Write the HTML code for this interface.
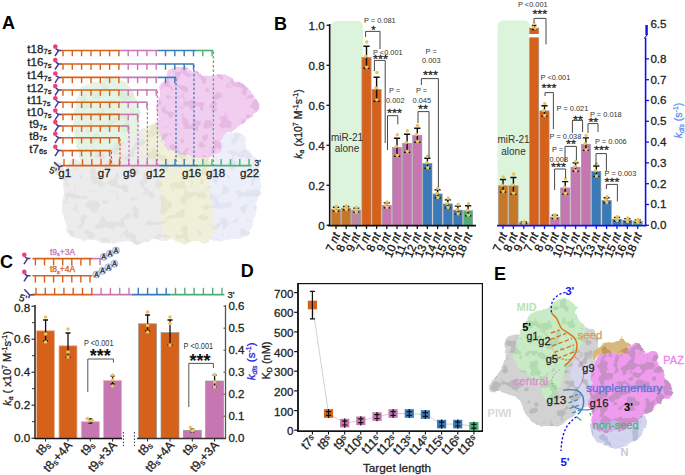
<!DOCTYPE html>
<html><head><meta charset="utf-8"><style>
html,body{margin:0;padding:0;background:#fff;}
svg{display:block;}
text{font-family:"Liberation Sans",sans-serif;}
</style></head><body>
<svg width="685" height="475" viewBox="0 0 685 475" font-family="Liberation Sans, sans-serif">
<defs>
<filter id="blur1" x="-10%" y="-10%" width="120%" height="120%"><feGaussianBlur stdDeviation="1.2"/></filter>
<filter id="blur2" x="-10%" y="-10%" width="120%" height="120%"><feGaussianBlur stdDeviation="0.8"/></filter>
<filter id="rough" x="-10%" y="-10%" width="120%" height="120%"><feTurbulence type="fractalNoise" baseFrequency="0.09" numOctaves="2" seed="3" result="n"/><feDisplacementMap in="SourceGraphic" in2="n" scale="7" xChannelSelector="R" yChannelSelector="G" result="d"/><feGaussianBlur in="d" stdDeviation="0.5"/></filter>
<filter id="mottle2" x="-10%" y="-10%" width="120%" height="120%"><feTurbulence type="fractalNoise" baseFrequency="0.11" numOctaves="2" seed="11" result="n"/><feColorMatrix in="n" type="matrix" values="0 0 0 0 0 0 0 0 0 0 0 0 0 0 0 -14 0 0 0 7.2" result="a"/><feDisplacementMap in="SourceGraphic" in2="n" scale="7" xChannelSelector="R" yChannelSelector="G" result="d"/><feComposite in="d" in2="a" operator="in" result="c"/><feGaussianBlur in="c" stdDeviation="0.4"/></filter>
<filter id="mottle" x="-10%" y="-10%" width="120%" height="120%"><feTurbulence type="fractalNoise" baseFrequency="0.1" numOctaves="2" seed="7" result="n"/><feColorMatrix in="n" type="matrix" values="0 0 0 0 0 0 0 0 0 0 0 0 0 0 0 -14 0 0 0 6.3" result="a"/><feDisplacementMap in="SourceGraphic" in2="n" scale="7" xChannelSelector="R" yChannelSelector="G" result="d"/><feComposite in="d" in2="a" operator="in" result="c"/><feGaussianBlur in="c" stdDeviation="0.4"/></filter>
</defs>
<rect width="685" height="475" fill="#fff"/>
<text x="2.0" y="29.0" font-size="18" text-anchor="start" fill="#000" font-weight="bold">A</text>
<text x="274.0" y="30.3" font-size="18" text-anchor="start" fill="#000" font-weight="bold">B</text>
<text x="0.0" y="267.5" font-size="18" text-anchor="start" fill="#000" font-weight="bold">C</text>
<text x="240.8" y="277.4" font-size="18" text-anchor="start" fill="#000" font-weight="bold">D</text>
<text x="494.0" y="279.5" font-size="18" text-anchor="start" fill="#000" font-weight="bold">E</text>
<g filter="url(#rough)">
<path d="M66.0,168.0 C67.8,164.7 70.3,161.7 74.0,160.0 C77.7,158.3 83.0,159.3 88.0,158.0 C93.0,156.7 99.0,154.2 104.0,152.0 C109.0,149.8 113.7,147.3 118.0,145.0 C122.3,142.7 126.3,140.5 130.0,138.0 C133.7,135.5 136.7,131.7 140.0,130.0 C143.3,128.3 147.0,127.3 150.0,128.0 C153.0,128.7 156.0,130.3 158.0,134.0 C160.0,137.7 160.3,143.7 162.0,150.0 C163.7,156.3 165.8,166.2 168.0,172.0 C170.2,177.8 173.3,180.3 175.0,185.0 C176.7,189.7 177.5,194.2 178.0,200.0 C178.5,205.8 178.3,214.0 178.0,220.0 C177.7,226.0 177.7,232.3 176.0,236.0 C174.3,239.7 171.5,241.3 168.0,242.0 C164.5,242.7 159.7,239.8 155.0,240.0 C150.3,240.2 145.0,242.8 140.0,243.0 C135.0,243.2 130.0,241.0 125.0,241.0 C120.0,241.0 115.0,243.0 110.0,243.0 C105.0,243.0 100.0,241.5 95.0,241.0 C90.0,240.5 84.2,240.8 80.0,240.0 C75.8,239.2 72.3,238.5 70.0,236.0 C67.7,233.5 67.2,229.3 66.0,225.0 C64.8,220.7 63.3,215.0 63.0,210.0 C62.7,205.0 64.0,200.0 64.0,195.0 C64.0,190.0 62.7,184.5 63.0,180.0 C63.3,175.5 64.2,171.3 66.0,168.0 Z" fill="#ececec"/>
<path d="M224.0,134.0 C225.8,132.5 230.2,132.8 233.0,133.0 C235.8,133.2 239.0,133.8 241.0,135.0 C243.0,136.2 243.7,137.2 245.0,140.0 C246.3,142.8 247.2,148.7 249.0,152.0 C250.8,155.3 254.2,156.2 256.0,160.0 C257.8,163.8 259.5,169.2 260.0,175.0 C260.5,180.8 259.8,188.3 259.0,195.0 C258.2,201.7 256.5,209.2 255.0,215.0 C253.5,220.8 251.8,226.3 250.0,230.0 C248.2,233.7 247.0,235.7 244.0,237.0 C241.0,238.3 236.0,237.5 232.0,238.0 C228.0,238.5 224.0,240.0 220.0,240.0 C216.0,240.0 210.7,240.5 208.0,238.0 C205.3,235.5 204.8,230.5 204.0,225.0 C203.2,219.5 202.8,211.7 203.0,205.0 C203.2,198.3 203.8,190.8 205.0,185.0 C206.2,179.2 208.8,174.2 210.0,170.0 C211.2,165.8 210.7,163.3 212.0,160.0 C213.3,156.7 216.3,153.0 218.0,150.0 C219.7,147.0 221.0,144.7 222.0,142.0 C223.0,139.3 222.2,135.5 224.0,134.0 Z" fill="#eceef8"/>
<path d="M146.0,128.0 C148.3,125.0 152.7,122.7 156.0,122.0 C159.3,121.3 163.3,124.2 166.0,124.0 C168.7,123.8 168.7,120.5 172.0,121.0 C175.3,121.5 181.3,125.8 186.0,127.0 C190.7,128.2 196.3,125.8 200.0,128.0 C203.7,130.2 206.3,134.7 208.0,140.0 C209.7,145.3 209.7,152.5 210.0,160.0 C210.3,167.5 209.7,176.7 210.0,185.0 C210.3,193.3 211.3,202.5 212.0,210.0 C212.7,217.5 214.7,224.8 214.0,230.0 C213.3,235.2 211.2,238.8 208.0,241.0 C204.8,243.2 199.7,242.8 195.0,243.0 C190.3,243.2 184.5,242.8 180.0,242.0 C175.5,241.2 171.0,240.8 168.0,238.0 C165.0,235.2 163.3,231.3 162.0,225.0 C160.7,218.7 160.5,208.3 160.0,200.0 C159.5,191.7 159.0,181.3 159.0,175.0 C159.0,168.7 161.5,164.5 160.0,162.0 C158.5,159.5 152.8,161.7 150.0,160.0 C147.2,158.3 144.3,155.3 143.0,152.0 C141.7,148.7 141.5,144.0 142.0,140.0 C142.5,136.0 143.7,131.0 146.0,128.0 Z" fill="#efefda"/>
<path d="M76.0,100.0 C77.5,95.0 80.0,88.2 84.0,85.0 C88.0,81.8 95.3,82.3 100.0,81.0 C104.7,79.7 108.0,76.8 112.0,77.0 C116.0,77.2 120.7,79.5 124.0,82.0 C127.3,84.5 129.7,88.3 132.0,92.0 C134.3,95.7 136.8,99.7 138.0,104.0 C139.2,108.3 139.2,113.7 139.0,118.0 C138.8,122.3 138.5,126.3 137.0,130.0 C135.5,133.7 133.2,137.3 130.0,140.0 C126.8,142.7 122.3,144.0 118.0,146.0 C113.7,148.0 108.3,150.0 104.0,152.0 C99.7,154.0 95.7,156.7 92.0,158.0 C88.3,159.3 84.5,161.7 82.0,160.0 C79.5,158.3 78.2,153.0 77.0,148.0 C75.8,143.0 75.3,135.5 75.0,130.0 C74.7,124.5 74.8,120.0 75.0,115.0 C75.2,110.0 74.5,105.0 76.0,100.0 Z" fill="#e6f3e4"/>
<path d="M158.0,100.0 C158.5,96.3 158.3,92.2 160.0,88.0 C161.7,83.8 165.3,78.3 168.0,75.0 C170.7,71.7 173.0,69.3 176.0,68.0 C179.0,66.7 182.7,66.3 186.0,67.0 C189.3,67.7 192.8,70.3 196.0,72.0 C199.2,73.7 201.7,76.7 205.0,77.0 C208.3,77.3 212.2,74.0 216.0,74.0 C219.8,74.0 224.0,75.3 228.0,77.0 C232.0,78.7 236.3,81.5 240.0,84.0 C243.7,86.5 247.2,89.0 250.0,92.0 C252.8,95.0 255.7,98.7 257.0,102.0 C258.3,105.3 259.2,109.3 258.0,112.0 C256.8,114.7 252.5,116.3 250.0,118.0 C247.5,119.7 245.8,120.0 243.0,122.0 C240.2,124.0 235.8,128.2 233.0,130.0 C230.2,131.8 227.8,131.3 226.0,133.0 C224.2,134.7 222.7,137.0 222.0,140.0 C221.3,143.0 223.7,148.3 222.0,151.0 C220.3,153.7 215.7,155.0 212.0,156.0 C208.3,157.0 204.0,157.2 200.0,157.0 C196.0,156.8 192.0,155.8 188.0,155.0 C184.0,154.2 179.7,153.5 176.0,152.0 C172.3,150.5 168.7,148.7 166.0,146.0 C163.3,143.3 161.5,140.0 160.0,136.0 C158.5,132.0 157.5,126.3 157.0,122.0 C156.5,117.7 156.8,113.7 157.0,110.0 C157.2,106.3 157.5,103.7 158.0,100.0 Z" fill="#f1cdf0"/>
<ellipse cx="58" cy="168" rx="5" ry="7" fill="#ece8d2"/>
</g>
<g filter="url(#mottle)"><path d="M66.0,168.0 C67.8,164.7 70.3,161.7 74.0,160.0 C77.7,158.3 83.0,159.3 88.0,158.0 C93.0,156.7 99.0,154.2 104.0,152.0 C109.0,149.8 113.7,147.3 118.0,145.0 C122.3,142.7 126.3,140.5 130.0,138.0 C133.7,135.5 136.7,131.7 140.0,130.0 C143.3,128.3 147.0,127.3 150.0,128.0 C153.0,128.7 156.0,130.3 158.0,134.0 C160.0,137.7 160.3,143.7 162.0,150.0 C163.7,156.3 165.8,166.2 168.0,172.0 C170.2,177.8 173.3,180.3 175.0,185.0 C176.7,189.7 177.5,194.2 178.0,200.0 C178.5,205.8 178.3,214.0 178.0,220.0 C177.7,226.0 177.7,232.3 176.0,236.0 C174.3,239.7 171.5,241.3 168.0,242.0 C164.5,242.7 159.7,239.8 155.0,240.0 C150.3,240.2 145.0,242.8 140.0,243.0 C135.0,243.2 130.0,241.0 125.0,241.0 C120.0,241.0 115.0,243.0 110.0,243.0 C105.0,243.0 100.0,241.5 95.0,241.0 C90.0,240.5 84.2,240.8 80.0,240.0 C75.8,239.2 72.3,238.5 70.0,236.0 C67.7,233.5 67.2,229.3 66.0,225.0 C64.8,220.7 63.3,215.0 63.0,210.0 C62.7,205.0 64.0,200.0 64.0,195.0 C64.0,190.0 62.7,184.5 63.0,180.0 C63.3,175.5 64.2,171.3 66.0,168.0 Z" fill="#e2e2e2"/></g>
<g filter="url(#mottle)"><path d="M224.0,134.0 C225.8,132.5 230.2,132.8 233.0,133.0 C235.8,133.2 239.0,133.8 241.0,135.0 C243.0,136.2 243.7,137.2 245.0,140.0 C246.3,142.8 247.2,148.7 249.0,152.0 C250.8,155.3 254.2,156.2 256.0,160.0 C257.8,163.8 259.5,169.2 260.0,175.0 C260.5,180.8 259.8,188.3 259.0,195.0 C258.2,201.7 256.5,209.2 255.0,215.0 C253.5,220.8 251.8,226.3 250.0,230.0 C248.2,233.7 247.0,235.7 244.0,237.0 C241.0,238.3 236.0,237.5 232.0,238.0 C228.0,238.5 224.0,240.0 220.0,240.0 C216.0,240.0 210.7,240.5 208.0,238.0 C205.3,235.5 204.8,230.5 204.0,225.0 C203.2,219.5 202.8,211.7 203.0,205.0 C203.2,198.3 203.8,190.8 205.0,185.0 C206.2,179.2 208.8,174.2 210.0,170.0 C211.2,165.8 210.7,163.3 212.0,160.0 C213.3,156.7 216.3,153.0 218.0,150.0 C219.7,147.0 221.0,144.7 222.0,142.0 C223.0,139.3 222.2,135.5 224.0,134.0 Z" fill="#e1e4f3"/></g>
<g filter="url(#mottle)"><path d="M146.0,128.0 C148.3,125.0 152.7,122.7 156.0,122.0 C159.3,121.3 163.3,124.2 166.0,124.0 C168.7,123.8 168.7,120.5 172.0,121.0 C175.3,121.5 181.3,125.8 186.0,127.0 C190.7,128.2 196.3,125.8 200.0,128.0 C203.7,130.2 206.3,134.7 208.0,140.0 C209.7,145.3 209.7,152.5 210.0,160.0 C210.3,167.5 209.7,176.7 210.0,185.0 C210.3,193.3 211.3,202.5 212.0,210.0 C212.7,217.5 214.7,224.8 214.0,230.0 C213.3,235.2 211.2,238.8 208.0,241.0 C204.8,243.2 199.7,242.8 195.0,243.0 C190.3,243.2 184.5,242.8 180.0,242.0 C175.5,241.2 171.0,240.8 168.0,238.0 C165.0,235.2 163.3,231.3 162.0,225.0 C160.7,218.7 160.5,208.3 160.0,200.0 C159.5,191.7 159.0,181.3 159.0,175.0 C159.0,168.7 161.5,164.5 160.0,162.0 C158.5,159.5 152.8,161.7 150.0,160.0 C147.2,158.3 144.3,155.3 143.0,152.0 C141.7,148.7 141.5,144.0 142.0,140.0 C142.5,136.0 143.7,131.0 146.0,128.0 Z" fill="#e6e6ca"/></g>
<g filter="url(#mottle)"><path d="M76.0,100.0 C77.5,95.0 80.0,88.2 84.0,85.0 C88.0,81.8 95.3,82.3 100.0,81.0 C104.7,79.7 108.0,76.8 112.0,77.0 C116.0,77.2 120.7,79.5 124.0,82.0 C127.3,84.5 129.7,88.3 132.0,92.0 C134.3,95.7 136.8,99.7 138.0,104.0 C139.2,108.3 139.2,113.7 139.0,118.0 C138.8,122.3 138.5,126.3 137.0,130.0 C135.5,133.7 133.2,137.3 130.0,140.0 C126.8,142.7 122.3,144.0 118.0,146.0 C113.7,148.0 108.3,150.0 104.0,152.0 C99.7,154.0 95.7,156.7 92.0,158.0 C88.3,159.3 84.5,161.7 82.0,160.0 C79.5,158.3 78.2,153.0 77.0,148.0 C75.8,143.0 75.3,135.5 75.0,130.0 C74.7,124.5 74.8,120.0 75.0,115.0 C75.2,110.0 74.5,105.0 76.0,100.0 Z" fill="#dbeed9"/></g>
<g filter="url(#mottle)"><path d="M158.0,100.0 C158.5,96.3 158.3,92.2 160.0,88.0 C161.7,83.8 165.3,78.3 168.0,75.0 C170.7,71.7 173.0,69.3 176.0,68.0 C179.0,66.7 182.7,66.3 186.0,67.0 C189.3,67.7 192.8,70.3 196.0,72.0 C199.2,73.7 201.7,76.7 205.0,77.0 C208.3,77.3 212.2,74.0 216.0,74.0 C219.8,74.0 224.0,75.3 228.0,77.0 C232.0,78.7 236.3,81.5 240.0,84.0 C243.7,86.5 247.2,89.0 250.0,92.0 C252.8,95.0 255.7,98.7 257.0,102.0 C258.3,105.3 259.2,109.3 258.0,112.0 C256.8,114.7 252.5,116.3 250.0,118.0 C247.5,119.7 245.8,120.0 243.0,122.0 C240.2,124.0 235.8,128.2 233.0,130.0 C230.2,131.8 227.8,131.3 226.0,133.0 C224.2,134.7 222.7,137.0 222.0,140.0 C221.3,143.0 223.7,148.3 222.0,151.0 C220.3,153.7 215.7,155.0 212.0,156.0 C208.3,157.0 204.0,157.2 200.0,157.0 C196.0,156.8 192.0,155.8 188.0,155.0 C184.0,154.2 179.7,153.5 176.0,152.0 C172.3,150.5 168.7,148.7 166.0,146.0 C163.3,143.3 161.5,140.0 160.0,136.0 C158.5,132.0 157.5,126.3 157.0,122.0 C156.5,117.7 156.8,113.7 157.0,110.0 C157.2,106.3 157.5,103.7 158.0,100.0 Z" fill="#e6b9e4"/></g>
<text x="27.3" y="52.5" font-size="11.6" fill="#222" stroke="#222" stroke-width="0.28">t18<tspan font-size="7.6" dy="1.6">7s</tspan></text>
<path d="M55,56.0 L58.6,50.5 L61.5,50.5" stroke="#4a3a90" stroke-width="1.5" fill="none"/>
<path d="M58.6,50.5 L55.8,48.7" stroke="#4a3a90" stroke-width="1.5" fill="none"/>
<circle cx="55.3" cy="46.6" r="2.3" fill="#f23c78"/>
<line x1="61" y1="50.5" x2="120.5" y2="50.5" stroke="#d6611b" stroke-width="1.6"/>
<line x1="120.5" y1="50.5" x2="157.4" y2="50.5" stroke="#c676b0" stroke-width="1.6"/>
<line x1="157.4" y1="50.5" x2="196" y2="50.5" stroke="#3a7ab8" stroke-width="1.6"/>
<line x1="196" y1="50.5" x2="213.4" y2="50.5" stroke="#4cae78" stroke-width="1.6"/>
<line x1="63.0" y1="50.5" x2="63.0" y2="56.3" stroke="#d6611b" stroke-width="1.4"/>
<line x1="72.3" y1="50.5" x2="72.3" y2="56.3" stroke="#d6611b" stroke-width="1.4"/>
<line x1="81.6" y1="50.5" x2="81.6" y2="56.3" stroke="#d6611b" stroke-width="1.4"/>
<line x1="91.0" y1="50.5" x2="91.0" y2="56.3" stroke="#d6611b" stroke-width="1.4"/>
<line x1="100.3" y1="50.5" x2="100.3" y2="56.3" stroke="#d6611b" stroke-width="1.4"/>
<line x1="109.6" y1="50.5" x2="109.6" y2="56.3" stroke="#d6611b" stroke-width="1.4"/>
<line x1="118.9" y1="50.5" x2="118.9" y2="56.3" stroke="#d6611b" stroke-width="1.4"/>
<line x1="128.2" y1="50.5" x2="128.2" y2="56.3" stroke="#c676b0" stroke-width="1.4"/>
<line x1="137.6" y1="50.5" x2="137.6" y2="56.3" stroke="#c676b0" stroke-width="1.4"/>
<line x1="146.9" y1="50.5" x2="146.9" y2="56.3" stroke="#c676b0" stroke-width="1.4"/>
<line x1="156.2" y1="50.5" x2="156.2" y2="56.3" stroke="#c676b0" stroke-width="1.4"/>
<line x1="165.5" y1="50.5" x2="165.5" y2="56.3" stroke="#3a7ab8" stroke-width="1.4"/>
<line x1="174.8" y1="50.5" x2="174.8" y2="56.3" stroke="#3a7ab8" stroke-width="1.4"/>
<line x1="184.2" y1="50.5" x2="184.2" y2="56.3" stroke="#3a7ab8" stroke-width="1.4"/>
<line x1="193.5" y1="50.5" x2="193.5" y2="56.3" stroke="#3a7ab8" stroke-width="1.4"/>
<line x1="202.8" y1="50.5" x2="202.8" y2="56.3" stroke="#4cae78" stroke-width="1.4"/>
<line x1="212.1" y1="50.5" x2="212.1" y2="56.3" stroke="#4cae78" stroke-width="1.4"/>
<line x1="213.4" y1="51.5" x2="213.4" y2="165.5" stroke="#4cae78" stroke-width="1.25" stroke-dasharray="2.6,1.9"/>
<text x="27.3" y="66.0" font-size="11.6" fill="#222" stroke="#222" stroke-width="0.28">t16<tspan font-size="7.6" dy="1.6">7s</tspan></text>
<path d="M55,69.5 L58.6,64.0 L61.5,64.0" stroke="#4a3a90" stroke-width="1.5" fill="none"/>
<path d="M58.6,64.0 L55.8,62.2" stroke="#4a3a90" stroke-width="1.5" fill="none"/>
<circle cx="55.3" cy="60.1" r="2.3" fill="#f23c78"/>
<line x1="61" y1="64.0" x2="120.5" y2="64.0" stroke="#d6611b" stroke-width="1.6"/>
<line x1="120.5" y1="64.0" x2="157.4" y2="64.0" stroke="#c676b0" stroke-width="1.6"/>
<line x1="157.4" y1="64.0" x2="194" y2="64.0" stroke="#3a7ab8" stroke-width="1.6"/>
<line x1="63.0" y1="64.0" x2="63.0" y2="69.8" stroke="#d6611b" stroke-width="1.4"/>
<line x1="72.3" y1="64.0" x2="72.3" y2="69.8" stroke="#d6611b" stroke-width="1.4"/>
<line x1="81.6" y1="64.0" x2="81.6" y2="69.8" stroke="#d6611b" stroke-width="1.4"/>
<line x1="91.0" y1="64.0" x2="91.0" y2="69.8" stroke="#d6611b" stroke-width="1.4"/>
<line x1="100.3" y1="64.0" x2="100.3" y2="69.8" stroke="#d6611b" stroke-width="1.4"/>
<line x1="109.6" y1="64.0" x2="109.6" y2="69.8" stroke="#d6611b" stroke-width="1.4"/>
<line x1="118.9" y1="64.0" x2="118.9" y2="69.8" stroke="#d6611b" stroke-width="1.4"/>
<line x1="128.2" y1="64.0" x2="128.2" y2="69.8" stroke="#c676b0" stroke-width="1.4"/>
<line x1="137.6" y1="64.0" x2="137.6" y2="69.8" stroke="#c676b0" stroke-width="1.4"/>
<line x1="146.9" y1="64.0" x2="146.9" y2="69.8" stroke="#c676b0" stroke-width="1.4"/>
<line x1="156.2" y1="64.0" x2="156.2" y2="69.8" stroke="#c676b0" stroke-width="1.4"/>
<line x1="165.5" y1="64.0" x2="165.5" y2="69.8" stroke="#3a7ab8" stroke-width="1.4"/>
<line x1="174.8" y1="64.0" x2="174.8" y2="69.8" stroke="#3a7ab8" stroke-width="1.4"/>
<line x1="184.2" y1="64.0" x2="184.2" y2="69.8" stroke="#3a7ab8" stroke-width="1.4"/>
<line x1="193.5" y1="64.0" x2="193.5" y2="69.8" stroke="#3a7ab8" stroke-width="1.4"/>
<line x1="194" y1="65.0" x2="194" y2="165.5" stroke="#3a7ab8" stroke-width="1.25" stroke-dasharray="2.6,1.9"/>
<text x="27.3" y="79.4" font-size="11.6" fill="#222" stroke="#222" stroke-width="0.28">t14<tspan font-size="7.6" dy="1.6">7s</tspan></text>
<path d="M55,82.9 L58.6,77.4 L61.5,77.4" stroke="#4a3a90" stroke-width="1.5" fill="none"/>
<path d="M58.6,77.4 L55.8,75.60000000000001" stroke="#4a3a90" stroke-width="1.5" fill="none"/>
<circle cx="55.3" cy="73.5" r="2.3" fill="#f23c78"/>
<line x1="61" y1="77.4" x2="120.5" y2="77.4" stroke="#d6611b" stroke-width="1.6"/>
<line x1="120.5" y1="77.4" x2="157.4" y2="77.4" stroke="#c676b0" stroke-width="1.6"/>
<line x1="157.4" y1="77.4" x2="176" y2="77.4" stroke="#3a7ab8" stroke-width="1.6"/>
<line x1="63.0" y1="77.4" x2="63.0" y2="83.2" stroke="#d6611b" stroke-width="1.4"/>
<line x1="72.3" y1="77.4" x2="72.3" y2="83.2" stroke="#d6611b" stroke-width="1.4"/>
<line x1="81.6" y1="77.4" x2="81.6" y2="83.2" stroke="#d6611b" stroke-width="1.4"/>
<line x1="91.0" y1="77.4" x2="91.0" y2="83.2" stroke="#d6611b" stroke-width="1.4"/>
<line x1="100.3" y1="77.4" x2="100.3" y2="83.2" stroke="#d6611b" stroke-width="1.4"/>
<line x1="109.6" y1="77.4" x2="109.6" y2="83.2" stroke="#d6611b" stroke-width="1.4"/>
<line x1="118.9" y1="77.4" x2="118.9" y2="83.2" stroke="#d6611b" stroke-width="1.4"/>
<line x1="128.2" y1="77.4" x2="128.2" y2="83.2" stroke="#c676b0" stroke-width="1.4"/>
<line x1="137.6" y1="77.4" x2="137.6" y2="83.2" stroke="#c676b0" stroke-width="1.4"/>
<line x1="146.9" y1="77.4" x2="146.9" y2="83.2" stroke="#c676b0" stroke-width="1.4"/>
<line x1="156.2" y1="77.4" x2="156.2" y2="83.2" stroke="#c676b0" stroke-width="1.4"/>
<line x1="165.5" y1="77.4" x2="165.5" y2="83.2" stroke="#3a7ab8" stroke-width="1.4"/>
<line x1="174.8" y1="77.4" x2="174.8" y2="83.2" stroke="#3a7ab8" stroke-width="1.4"/>
<line x1="176" y1="78.4" x2="176" y2="165.5" stroke="#3a7ab8" stroke-width="1.25" stroke-dasharray="2.6,1.9"/>
<text x="27.3" y="92.0" font-size="11.6" fill="#222" stroke="#222" stroke-width="0.28">t12<tspan font-size="7.6" dy="1.6">7s</tspan></text>
<path d="M55,95.5 L58.6,90.0 L61.5,90.0" stroke="#4a3a90" stroke-width="1.5" fill="none"/>
<path d="M58.6,90.0 L55.8,88.2" stroke="#4a3a90" stroke-width="1.5" fill="none"/>
<circle cx="55.3" cy="86.1" r="2.3" fill="#f23c78"/>
<line x1="61" y1="90.0" x2="120.5" y2="90.0" stroke="#d6611b" stroke-width="1.6"/>
<line x1="120.5" y1="90.0" x2="157.4" y2="90.0" stroke="#c676b0" stroke-width="1.6"/>
<line x1="63.0" y1="90.0" x2="63.0" y2="95.8" stroke="#d6611b" stroke-width="1.4"/>
<line x1="72.3" y1="90.0" x2="72.3" y2="95.8" stroke="#d6611b" stroke-width="1.4"/>
<line x1="81.6" y1="90.0" x2="81.6" y2="95.8" stroke="#d6611b" stroke-width="1.4"/>
<line x1="91.0" y1="90.0" x2="91.0" y2="95.8" stroke="#d6611b" stroke-width="1.4"/>
<line x1="100.3" y1="90.0" x2="100.3" y2="95.8" stroke="#d6611b" stroke-width="1.4"/>
<line x1="109.6" y1="90.0" x2="109.6" y2="95.8" stroke="#d6611b" stroke-width="1.4"/>
<line x1="118.9" y1="90.0" x2="118.9" y2="95.8" stroke="#d6611b" stroke-width="1.4"/>
<line x1="128.2" y1="90.0" x2="128.2" y2="95.8" stroke="#c676b0" stroke-width="1.4"/>
<line x1="137.6" y1="90.0" x2="137.6" y2="95.8" stroke="#c676b0" stroke-width="1.4"/>
<line x1="146.9" y1="90.0" x2="146.9" y2="95.8" stroke="#c676b0" stroke-width="1.4"/>
<line x1="156.2" y1="90.0" x2="156.2" y2="95.8" stroke="#c676b0" stroke-width="1.4"/>
<line x1="157.4" y1="91.0" x2="157.4" y2="165.5" stroke="#c676b0" stroke-width="1.25" stroke-dasharray="2.6,1.9"/>
<text x="27.3" y="104.2" font-size="11.6" fill="#222" stroke="#222" stroke-width="0.28">t11<tspan font-size="7.6" dy="1.6">7s</tspan></text>
<path d="M55,107.7 L58.6,102.2 L61.5,102.2" stroke="#4a3a90" stroke-width="1.5" fill="none"/>
<path d="M58.6,102.2 L55.8,100.4" stroke="#4a3a90" stroke-width="1.5" fill="none"/>
<circle cx="55.3" cy="98.3" r="2.3" fill="#f23c78"/>
<line x1="61" y1="102.2" x2="120.5" y2="102.2" stroke="#d6611b" stroke-width="1.6"/>
<line x1="120.5" y1="102.2" x2="147.4" y2="102.2" stroke="#c676b0" stroke-width="1.6"/>
<line x1="63.0" y1="102.2" x2="63.0" y2="108.0" stroke="#d6611b" stroke-width="1.4"/>
<line x1="72.3" y1="102.2" x2="72.3" y2="108.0" stroke="#d6611b" stroke-width="1.4"/>
<line x1="81.6" y1="102.2" x2="81.6" y2="108.0" stroke="#d6611b" stroke-width="1.4"/>
<line x1="91.0" y1="102.2" x2="91.0" y2="108.0" stroke="#d6611b" stroke-width="1.4"/>
<line x1="100.3" y1="102.2" x2="100.3" y2="108.0" stroke="#d6611b" stroke-width="1.4"/>
<line x1="109.6" y1="102.2" x2="109.6" y2="108.0" stroke="#d6611b" stroke-width="1.4"/>
<line x1="118.9" y1="102.2" x2="118.9" y2="108.0" stroke="#d6611b" stroke-width="1.4"/>
<line x1="128.2" y1="102.2" x2="128.2" y2="108.0" stroke="#c676b0" stroke-width="1.4"/>
<line x1="137.6" y1="102.2" x2="137.6" y2="108.0" stroke="#c676b0" stroke-width="1.4"/>
<line x1="146.9" y1="102.2" x2="146.9" y2="108.0" stroke="#c676b0" stroke-width="1.4"/>
<line x1="147.4" y1="103.2" x2="147.4" y2="165.5" stroke="#c676b0" stroke-width="1.25" stroke-dasharray="2.6,1.9"/>
<text x="27.3" y="116.4" font-size="11.6" fill="#222" stroke="#222" stroke-width="0.28">t10<tspan font-size="7.6" dy="1.6">7s</tspan></text>
<path d="M55,119.9 L58.6,114.4 L61.5,114.4" stroke="#4a3a90" stroke-width="1.5" fill="none"/>
<path d="M58.6,114.4 L55.8,112.60000000000001" stroke="#4a3a90" stroke-width="1.5" fill="none"/>
<circle cx="55.3" cy="110.5" r="2.3" fill="#f23c78"/>
<line x1="61" y1="114.4" x2="120.5" y2="114.4" stroke="#d6611b" stroke-width="1.6"/>
<line x1="120.5" y1="114.4" x2="138" y2="114.4" stroke="#c676b0" stroke-width="1.6"/>
<line x1="63.0" y1="114.4" x2="63.0" y2="120.2" stroke="#d6611b" stroke-width="1.4"/>
<line x1="72.3" y1="114.4" x2="72.3" y2="120.2" stroke="#d6611b" stroke-width="1.4"/>
<line x1="81.6" y1="114.4" x2="81.6" y2="120.2" stroke="#d6611b" stroke-width="1.4"/>
<line x1="91.0" y1="114.4" x2="91.0" y2="120.2" stroke="#d6611b" stroke-width="1.4"/>
<line x1="100.3" y1="114.4" x2="100.3" y2="120.2" stroke="#d6611b" stroke-width="1.4"/>
<line x1="109.6" y1="114.4" x2="109.6" y2="120.2" stroke="#d6611b" stroke-width="1.4"/>
<line x1="118.9" y1="114.4" x2="118.9" y2="120.2" stroke="#d6611b" stroke-width="1.4"/>
<line x1="128.2" y1="114.4" x2="128.2" y2="120.2" stroke="#c676b0" stroke-width="1.4"/>
<line x1="137.6" y1="114.4" x2="137.6" y2="120.2" stroke="#c676b0" stroke-width="1.4"/>
<line x1="138" y1="115.4" x2="138" y2="165.5" stroke="#c676b0" stroke-width="1.25" stroke-dasharray="2.6,1.9"/>
<text x="29.3" y="128.0" font-size="11.6" fill="#222" stroke="#222" stroke-width="0.28">t9<tspan font-size="7.6" dy="1.6">7s</tspan></text>
<path d="M55,131.5 L58.6,126.0 L61.5,126.0" stroke="#4a3a90" stroke-width="1.5" fill="none"/>
<path d="M58.6,126.0 L55.8,124.2" stroke="#4a3a90" stroke-width="1.5" fill="none"/>
<circle cx="55.3" cy="122.1" r="2.3" fill="#f23c78"/>
<line x1="61" y1="126.0" x2="120.5" y2="126.0" stroke="#d6611b" stroke-width="1.6"/>
<line x1="120.5" y1="126.0" x2="129" y2="126.0" stroke="#c676b0" stroke-width="1.6"/>
<line x1="63.0" y1="126.0" x2="63.0" y2="131.8" stroke="#d6611b" stroke-width="1.4"/>
<line x1="72.3" y1="126.0" x2="72.3" y2="131.8" stroke="#d6611b" stroke-width="1.4"/>
<line x1="81.6" y1="126.0" x2="81.6" y2="131.8" stroke="#d6611b" stroke-width="1.4"/>
<line x1="91.0" y1="126.0" x2="91.0" y2="131.8" stroke="#d6611b" stroke-width="1.4"/>
<line x1="100.3" y1="126.0" x2="100.3" y2="131.8" stroke="#d6611b" stroke-width="1.4"/>
<line x1="109.6" y1="126.0" x2="109.6" y2="131.8" stroke="#d6611b" stroke-width="1.4"/>
<line x1="118.9" y1="126.0" x2="118.9" y2="131.8" stroke="#d6611b" stroke-width="1.4"/>
<line x1="128.2" y1="126.0" x2="128.2" y2="131.8" stroke="#c676b0" stroke-width="1.4"/>
<line x1="129" y1="127.0" x2="129" y2="165.5" stroke="#c676b0" stroke-width="1.25" stroke-dasharray="2.6,1.9"/>
<text x="29.3" y="139.7" font-size="11.6" fill="#222" stroke="#222" stroke-width="0.28">t8<tspan font-size="7.6" dy="1.6">7s</tspan></text>
<path d="M55,143.2 L58.6,137.7 L61.5,137.7" stroke="#4a3a90" stroke-width="1.5" fill="none"/>
<path d="M58.6,137.7 L55.8,135.89999999999998" stroke="#4a3a90" stroke-width="1.5" fill="none"/>
<circle cx="55.3" cy="133.79999999999998" r="2.3" fill="#f23c78"/>
<line x1="61" y1="137.7" x2="120" y2="137.7" stroke="#d6611b" stroke-width="1.6"/>
<line x1="63.0" y1="137.7" x2="63.0" y2="143.5" stroke="#d6611b" stroke-width="1.4"/>
<line x1="72.3" y1="137.7" x2="72.3" y2="143.5" stroke="#d6611b" stroke-width="1.4"/>
<line x1="81.6" y1="137.7" x2="81.6" y2="143.5" stroke="#d6611b" stroke-width="1.4"/>
<line x1="91.0" y1="137.7" x2="91.0" y2="143.5" stroke="#d6611b" stroke-width="1.4"/>
<line x1="100.3" y1="137.7" x2="100.3" y2="143.5" stroke="#d6611b" stroke-width="1.4"/>
<line x1="109.6" y1="137.7" x2="109.6" y2="143.5" stroke="#d6611b" stroke-width="1.4"/>
<line x1="118.9" y1="137.7" x2="118.9" y2="143.5" stroke="#d6611b" stroke-width="1.4"/>
<line x1="120" y1="138.7" x2="120" y2="165.5" stroke="#d6611b" stroke-width="1.25" stroke-dasharray="2.6,1.9"/>
<text x="29.3" y="152.6" font-size="11.6" fill="#222" stroke="#222" stroke-width="0.28">t7<tspan font-size="7.6" dy="1.6">6s</tspan></text>
<path d="M55,156.1 L58.6,150.6 L61.5,150.6" stroke="#4a3a90" stroke-width="1.5" fill="none"/>
<path d="M58.6,150.6 L55.8,148.79999999999998" stroke="#4a3a90" stroke-width="1.5" fill="none"/>
<circle cx="55.3" cy="146.7" r="2.3" fill="#f23c78"/>
<line x1="61" y1="150.6" x2="111.4" y2="150.6" stroke="#d6611b" stroke-width="1.6"/>
<line x1="63.0" y1="150.6" x2="63.0" y2="156.4" stroke="#d6611b" stroke-width="1.4"/>
<line x1="72.3" y1="150.6" x2="72.3" y2="156.4" stroke="#d6611b" stroke-width="1.4"/>
<line x1="81.6" y1="150.6" x2="81.6" y2="156.4" stroke="#d6611b" stroke-width="1.4"/>
<line x1="91.0" y1="150.6" x2="91.0" y2="156.4" stroke="#d6611b" stroke-width="1.4"/>
<line x1="100.3" y1="150.6" x2="100.3" y2="156.4" stroke="#d6611b" stroke-width="1.4"/>
<line x1="109.6" y1="150.6" x2="109.6" y2="156.4" stroke="#d6611b" stroke-width="1.4"/>
<line x1="111.4" y1="151.6" x2="111.4" y2="165.5" stroke="#d6611b" stroke-width="1.25" stroke-dasharray="2.6,1.9"/>
<path d="M54.5,162.6 L59.3,166.8 L63.2,165.6 M59.3,166.8 L58.8,169.6" stroke="#4a3a90" stroke-width="1.6" fill="none" stroke-linecap="round"/>
<line x1="62.5" y1="165.6" x2="120" y2="165.6" stroke="#d6611b" stroke-width="1.6"/>
<line x1="120" y1="165.6" x2="159" y2="165.6" stroke="#c676b0" stroke-width="1.6"/>
<line x1="159" y1="165.6" x2="198" y2="165.6" stroke="#3a7ab8" stroke-width="1.6"/>
<line x1="198" y1="165.6" x2="251.5" y2="165.6" stroke="#4cae78" stroke-width="1.6"/>
<line x1="64.0" y1="165.6" x2="64.0" y2="159.1" stroke="#d6611b" stroke-width="1.4"/>
<line x1="73.2" y1="165.6" x2="73.2" y2="159.1" stroke="#d6611b" stroke-width="1.4"/>
<line x1="82.5" y1="165.6" x2="82.5" y2="159.1" stroke="#d6611b" stroke-width="1.4"/>
<line x1="91.8" y1="165.6" x2="91.8" y2="159.1" stroke="#d6611b" stroke-width="1.4"/>
<line x1="101.0" y1="165.6" x2="101.0" y2="159.1" stroke="#d6611b" stroke-width="1.4"/>
<line x1="110.2" y1="165.6" x2="110.2" y2="159.1" stroke="#d6611b" stroke-width="1.4"/>
<line x1="119.5" y1="165.6" x2="119.5" y2="159.1" stroke="#d6611b" stroke-width="1.4"/>
<line x1="128.8" y1="165.6" x2="128.8" y2="159.1" stroke="#c676b0" stroke-width="1.4"/>
<line x1="138.0" y1="165.6" x2="138.0" y2="159.1" stroke="#c676b0" stroke-width="1.4"/>
<line x1="147.2" y1="165.6" x2="147.2" y2="159.1" stroke="#c676b0" stroke-width="1.4"/>
<line x1="156.5" y1="165.6" x2="156.5" y2="159.1" stroke="#c676b0" stroke-width="1.4"/>
<line x1="165.8" y1="165.6" x2="165.8" y2="159.1" stroke="#3a7ab8" stroke-width="1.4"/>
<line x1="175.0" y1="165.6" x2="175.0" y2="159.1" stroke="#3a7ab8" stroke-width="1.4"/>
<line x1="184.2" y1="165.6" x2="184.2" y2="159.1" stroke="#3a7ab8" stroke-width="1.4"/>
<line x1="193.5" y1="165.6" x2="193.5" y2="159.1" stroke="#3a7ab8" stroke-width="1.4"/>
<line x1="202.8" y1="165.6" x2="202.8" y2="159.1" stroke="#4cae78" stroke-width="1.4"/>
<line x1="212.0" y1="165.6" x2="212.0" y2="159.1" stroke="#4cae78" stroke-width="1.4"/>
<line x1="221.2" y1="165.6" x2="221.2" y2="159.1" stroke="#4cae78" stroke-width="1.4"/>
<line x1="230.5" y1="165.6" x2="230.5" y2="159.1" stroke="#4cae78" stroke-width="1.4"/>
<line x1="239.8" y1="165.6" x2="239.8" y2="159.1" stroke="#4cae78" stroke-width="1.4"/>
<line x1="249.0" y1="165.6" x2="249.0" y2="159.1" stroke="#4cae78" stroke-width="1.4"/>
<text x="254.5" y="165.5" font-size="8.5" text-anchor="start" fill="#222"  stroke="#222" stroke-width="0.28">3'</text>
<text x="0" y="0" font-size="9.5" fill="#222" transform="translate(48.4,172.6) rotate(20)" stroke="#222" stroke-width="0.28">5'</text>
<text x="58.3" y="176.8" font-size="11.5" text-anchor="start" fill="#222"  stroke="#222" stroke-width="0.28">g1</text>
<text x="97.8" y="176.8" font-size="11.5" text-anchor="start" fill="#222"  stroke="#222" stroke-width="0.28">g7</text>
<text x="123.0" y="176.8" font-size="11.5" text-anchor="start" fill="#222"  stroke="#222" stroke-width="0.28">g9</text>
<text x="146.0" y="176.8" font-size="11.5" text-anchor="start" fill="#222"  stroke="#222" stroke-width="0.28">g12</text>
<text x="182.0" y="176.8" font-size="11.5" text-anchor="start" fill="#222"  stroke="#222" stroke-width="0.28">g16</text>
<text x="206.0" y="176.8" font-size="11.5" text-anchor="start" fill="#222"  stroke="#222" stroke-width="0.28">g18</text>
<text x="240.0" y="176.8" font-size="11.5" text-anchor="start" fill="#222"  stroke="#222" stroke-width="0.28">g22</text>
<rect x="331" y="21" width="32" height="206" rx="5" fill="#dcf3dc"/>
<rect x="331.4" y="209.3" width="9.2" height="16.0" fill="#c6782a" stroke="#9a9a9a" stroke-width="0.6"/>
<rect x="341.6" y="208.1" width="9.2" height="17.2" fill="#c6782a" stroke="#9a9a9a" stroke-width="0.6"/>
<rect x="351.7" y="210.1" width="9.2" height="15.2" fill="#b8889e" stroke="#9a9a9a" stroke-width="0.6"/>
<rect x="361.9" y="57.3" width="9.2" height="168.0" fill="#d6611b" stroke="#9a9a9a" stroke-width="0.6"/>
<rect x="372.0" y="89.3" width="9.2" height="136.0" fill="#d6611b" stroke="#9a9a9a" stroke-width="0.6"/>
<rect x="382.2" y="205.3" width="9.2" height="20.0" fill="#c676b0" stroke="#9a9a9a" stroke-width="0.6"/>
<rect x="392.4" y="147.3" width="9.2" height="78.0" fill="#c676b0" stroke="#9a9a9a" stroke-width="0.6"/>
<rect x="402.5" y="143.3" width="9.2" height="82.0" fill="#c676b0" stroke="#9a9a9a" stroke-width="0.6"/>
<rect x="412.7" y="135.3" width="9.2" height="90.0" fill="#c676b0" stroke="#9a9a9a" stroke-width="0.6"/>
<rect x="422.8" y="163.3" width="9.2" height="62.0" fill="#3a7ab8" stroke="#9a9a9a" stroke-width="0.6"/>
<rect x="433.0" y="193.9" width="9.2" height="31.4" fill="#3a7ab8" stroke="#9a9a9a" stroke-width="0.6"/>
<rect x="443.2" y="203.9" width="9.2" height="21.4" fill="#3a7ab8" stroke="#9a9a9a" stroke-width="0.6"/>
<rect x="453.3" y="210.1" width="9.2" height="15.2" fill="#3a7ab8" stroke="#9a9a9a" stroke-width="0.6"/>
<rect x="463.5" y="210.7" width="9.2" height="14.6" fill="#4cae78" stroke="#9a9a9a" stroke-width="0.6"/>
<path d="M336.0,207.3 V211.3 M332.9,207.3 h6.2 M332.9,211.3 h6.2" stroke="#111" stroke-width="1.4" fill="none"/>
<circle cx="336.3" cy="206.5" r="1.75" fill="#e8c462"/>
<circle cx="335.2" cy="209.1" r="1.75" fill="#e8c462"/>
<circle cx="336.2" cy="211.1" r="1.75" fill="#e8c462"/>
<path d="M346.2,206.5 V209.7 M343.1,206.5 h6.2 M343.1,209.7 h6.2" stroke="#111" stroke-width="1.4" fill="none"/>
<circle cx="346.5" cy="205.9" r="1.75" fill="#e8c462"/>
<circle cx="345.4" cy="207.9" r="1.75" fill="#e8c462"/>
<circle cx="346.4" cy="209.5" r="1.75" fill="#e8c462"/>
<path d="M356.3,208.1 V212.1 M353.2,208.1 h6.2 M353.2,212.1 h6.2" stroke="#111" stroke-width="1.4" fill="none"/>
<circle cx="356.6" cy="207.3" r="1.75" fill="#e8c462"/>
<circle cx="355.5" cy="209.9" r="1.75" fill="#e8c462"/>
<circle cx="356.5" cy="211.9" r="1.75" fill="#e8c462"/>
<path d="M366.5,46.3 V68.3 M363.4,46.3 h6.2 M363.4,68.3 h6.2" stroke="#111" stroke-width="1.4" fill="none"/>
<circle cx="366.8" cy="41.9" r="1.75" fill="#e8c462"/>
<circle cx="365.7" cy="56.2" r="1.75" fill="#e8c462"/>
<circle cx="366.7" cy="67.2" r="1.75" fill="#e8c462"/>
<path d="M376.6,77.3 V101.3 M373.5,77.3 h6.2 M373.5,101.3 h6.2" stroke="#111" stroke-width="1.4" fill="none"/>
<circle cx="376.9" cy="72.5" r="1.75" fill="#e8c462"/>
<circle cx="375.8" cy="88.1" r="1.75" fill="#e8c462"/>
<circle cx="376.8" cy="100.1" r="1.75" fill="#e8c462"/>
<path d="M386.8,202.9 V207.7 M383.7,202.9 h6.2 M383.7,207.7 h6.2" stroke="#111" stroke-width="1.4" fill="none"/>
<circle cx="387.1" cy="201.9" r="1.75" fill="#e8c462"/>
<circle cx="386.0" cy="205.1" r="1.75" fill="#e8c462"/>
<circle cx="387.0" cy="207.5" r="1.75" fill="#e8c462"/>
<path d="M397.0,138.3 V156.3 M393.9,138.3 h6.2 M393.9,156.3 h6.2" stroke="#111" stroke-width="1.4" fill="none"/>
<circle cx="397.3" cy="134.7" r="1.75" fill="#e8c462"/>
<circle cx="396.2" cy="146.4" r="1.75" fill="#e8c462"/>
<circle cx="397.2" cy="155.4" r="1.75" fill="#e8c462"/>
<path d="M407.1,134.3 V152.3 M404.0,134.3 h6.2 M404.0,152.3 h6.2" stroke="#111" stroke-width="1.4" fill="none"/>
<circle cx="407.4" cy="130.7" r="1.75" fill="#e8c462"/>
<circle cx="406.3" cy="142.4" r="1.75" fill="#e8c462"/>
<circle cx="407.3" cy="151.4" r="1.75" fill="#e8c462"/>
<path d="M417.3,128.3 V142.3 M414.2,128.3 h6.2 M414.2,142.3 h6.2" stroke="#111" stroke-width="1.4" fill="none"/>
<circle cx="417.6" cy="125.5" r="1.75" fill="#e8c462"/>
<circle cx="416.5" cy="134.6" r="1.75" fill="#e8c462"/>
<circle cx="417.5" cy="141.6" r="1.75" fill="#e8c462"/>
<path d="M427.4,158.3 V168.3 M424.3,158.3 h6.2 M424.3,168.3 h6.2" stroke="#111" stroke-width="1.4" fill="none"/>
<circle cx="427.7" cy="156.3" r="1.75" fill="#e8c462"/>
<circle cx="426.6" cy="162.8" r="1.75" fill="#e8c462"/>
<circle cx="427.6" cy="167.8" r="1.75" fill="#e8c462"/>
<path d="M437.6,189.9 V197.9 M434.5,189.9 h6.2 M434.5,197.9 h6.2" stroke="#111" stroke-width="1.4" fill="none"/>
<circle cx="437.9" cy="188.3" r="1.75" fill="#e8c462"/>
<circle cx="436.8" cy="193.5" r="1.75" fill="#e8c462"/>
<circle cx="437.8" cy="197.5" r="1.75" fill="#e8c462"/>
<path d="M447.8,199.9 V207.9 M444.7,199.9 h6.2 M444.7,207.9 h6.2" stroke="#111" stroke-width="1.4" fill="none"/>
<circle cx="448.1" cy="198.3" r="1.75" fill="#e8c462"/>
<circle cx="447.0" cy="203.5" r="1.75" fill="#e8c462"/>
<circle cx="448.0" cy="207.5" r="1.75" fill="#e8c462"/>
<path d="M457.9,206.1 V214.1 M454.8,206.1 h6.2 M454.8,214.1 h6.2" stroke="#111" stroke-width="1.4" fill="none"/>
<circle cx="458.2" cy="204.5" r="1.75" fill="#e8c462"/>
<circle cx="457.1" cy="209.7" r="1.75" fill="#e8c462"/>
<circle cx="458.1" cy="213.7" r="1.75" fill="#e8c462"/>
<path d="M468.1,205.7 V215.7 M465.0,205.7 h6.2 M465.0,215.7 h6.2" stroke="#111" stroke-width="1.4" fill="none"/>
<circle cx="468.4" cy="203.7" r="1.75" fill="#e8c462"/>
<circle cx="467.3" cy="210.2" r="1.75" fill="#e8c462"/>
<circle cx="468.3" cy="215.2" r="1.75" fill="#e8c462"/>
<line x1="329.7" y1="24" x2="329.7" y2="226" stroke="#111" stroke-width="1.6"/>
<line x1="328.2" y1="225.6" x2="476" y2="225.6" stroke="#111" stroke-width="1.6"/>
<line x1="326.5" y1="225.3" x2="329.7" y2="225.3" stroke="#111" stroke-width="1.3"/>
<text x="324.6" y="230.0" font-size="11.6" text-anchor="end" fill="#222"  stroke="#222" stroke-width="0.28">0</text>
<line x1="326.5" y1="185.3" x2="329.7" y2="185.3" stroke="#111" stroke-width="1.3"/>
<text x="324.6" y="190.0" font-size="11.6" text-anchor="end" fill="#222"  stroke="#222" stroke-width="0.28">0.2</text>
<line x1="326.5" y1="145.3" x2="329.7" y2="145.3" stroke="#111" stroke-width="1.3"/>
<text x="324.6" y="150.0" font-size="11.6" text-anchor="end" fill="#222"  stroke="#222" stroke-width="0.28">0.4</text>
<line x1="326.5" y1="105.3" x2="329.7" y2="105.3" stroke="#111" stroke-width="1.3"/>
<text x="324.6" y="110.0" font-size="11.6" text-anchor="end" fill="#222"  stroke="#222" stroke-width="0.28">0.6</text>
<line x1="326.5" y1="65.3" x2="329.7" y2="65.3" stroke="#111" stroke-width="1.3"/>
<text x="324.6" y="70.0" font-size="11.6" text-anchor="end" fill="#222"  stroke="#222" stroke-width="0.28">0.8</text>
<line x1="326.5" y1="25.3" x2="329.7" y2="25.3" stroke="#111" stroke-width="1.3"/>
<text x="324.6" y="30.0" font-size="11.6" text-anchor="end" fill="#222"  stroke="#222" stroke-width="0.28">1.0</text>
<line x1="336.0" y1="226" x2="336.0" y2="229" stroke="#111" stroke-width="1.3"/>
<text x="0" y="0" font-size="11.6" text-anchor="end" fill="#111" transform="translate(340.3,234.8) rotate(-67)" stroke="#111" stroke-width="0.28">7 <tspan font-style="italic">nt</tspan></text>
<line x1="346.2" y1="226" x2="346.2" y2="229" stroke="#111" stroke-width="1.3"/>
<text x="0" y="0" font-size="11.6" text-anchor="end" fill="#111" transform="translate(350.5,234.8) rotate(-67)" stroke="#111" stroke-width="0.28">8 <tspan font-style="italic">nt</tspan></text>
<line x1="356.3" y1="226" x2="356.3" y2="229" stroke="#111" stroke-width="1.3"/>
<text x="0" y="0" font-size="11.6" text-anchor="end" fill="#111" transform="translate(360.6,234.8) rotate(-67)" stroke="#111" stroke-width="0.28">9 <tspan font-style="italic">nt</tspan></text>
<line x1="366.5" y1="226" x2="366.5" y2="229" stroke="#111" stroke-width="1.3"/>
<text x="0" y="0" font-size="11.6" text-anchor="end" fill="#111" transform="translate(370.8,234.8) rotate(-67)" stroke="#111" stroke-width="0.28">7 <tspan font-style="italic">nt</tspan></text>
<line x1="376.6" y1="226" x2="376.6" y2="229" stroke="#111" stroke-width="1.3"/>
<text x="0" y="0" font-size="11.6" text-anchor="end" fill="#111" transform="translate(380.9,234.8) rotate(-67)" stroke="#111" stroke-width="0.28">8 <tspan font-style="italic">nt</tspan></text>
<line x1="386.8" y1="226" x2="386.8" y2="229" stroke="#111" stroke-width="1.3"/>
<text x="0" y="0" font-size="11.6" text-anchor="end" fill="#111" transform="translate(391.1,234.8) rotate(-67)" stroke="#111" stroke-width="0.28">9 <tspan font-style="italic">nt</tspan></text>
<line x1="397.0" y1="226" x2="397.0" y2="229" stroke="#111" stroke-width="1.3"/>
<text x="0" y="0" font-size="11.6" text-anchor="end" fill="#111" transform="translate(401.3,234.8) rotate(-67)" stroke="#111" stroke-width="0.28">10 <tspan font-style="italic">nt</tspan></text>
<line x1="407.1" y1="226" x2="407.1" y2="229" stroke="#111" stroke-width="1.3"/>
<text x="0" y="0" font-size="11.6" text-anchor="end" fill="#111" transform="translate(411.4,234.8) rotate(-67)" stroke="#111" stroke-width="0.28">11 <tspan font-style="italic">nt</tspan></text>
<line x1="417.3" y1="226" x2="417.3" y2="229" stroke="#111" stroke-width="1.3"/>
<text x="0" y="0" font-size="11.6" text-anchor="end" fill="#111" transform="translate(421.6,234.8) rotate(-67)" stroke="#111" stroke-width="0.28">12 <tspan font-style="italic">nt</tspan></text>
<line x1="427.4" y1="226" x2="427.4" y2="229" stroke="#111" stroke-width="1.3"/>
<text x="0" y="0" font-size="11.6" text-anchor="end" fill="#111" transform="translate(431.7,234.8) rotate(-67)" stroke="#111" stroke-width="0.28">13 <tspan font-style="italic">nt</tspan></text>
<line x1="437.6" y1="226" x2="437.6" y2="229" stroke="#111" stroke-width="1.3"/>
<text x="0" y="0" font-size="11.6" text-anchor="end" fill="#111" transform="translate(441.9,234.8) rotate(-67)" stroke="#111" stroke-width="0.28">14 <tspan font-style="italic">nt</tspan></text>
<line x1="447.8" y1="226" x2="447.8" y2="229" stroke="#111" stroke-width="1.3"/>
<text x="0" y="0" font-size="11.6" text-anchor="end" fill="#111" transform="translate(452.1,234.8) rotate(-67)" stroke="#111" stroke-width="0.28">15 <tspan font-style="italic">nt</tspan></text>
<line x1="457.9" y1="226" x2="457.9" y2="229" stroke="#111" stroke-width="1.3"/>
<text x="0" y="0" font-size="11.6" text-anchor="end" fill="#111" transform="translate(462.2,234.8) rotate(-67)" stroke="#111" stroke-width="0.28">16 <tspan font-style="italic">nt</tspan></text>
<line x1="468.1" y1="226" x2="468.1" y2="229" stroke="#111" stroke-width="1.3"/>
<text x="0" y="0" font-size="11.6" text-anchor="end" fill="#111" transform="translate(472.4,234.8) rotate(-67)" stroke="#111" stroke-width="0.28">18 <tspan font-style="italic">nt</tspan></text>
<text x="0" y="0" font-size="10.5" text-anchor="middle" fill="#222" transform="translate(301.5,124) rotate(-90)" stroke="#222" stroke-width="0.28"><tspan font-style="italic">k</tspan><tspan font-size="7" dy="2" font-style="italic">a</tspan><tspan dy="-2"> (x10</tspan><tspan font-size="7" dy="-4">7</tspan><tspan dy="4"> M</tspan><tspan font-size="7" dy="-4">-1</tspan><tspan dy="4">s</tspan><tspan font-size="7" dy="-4">-1</tspan><tspan dy="4">)</tspan></text>
<text x="347.0" y="140.6" font-size="10" text-anchor="middle" fill="#333" >miR-21</text>
<text x="347.0" y="152.4" font-size="10" text-anchor="middle" fill="#333" >alone</text>
<text x="364.0" y="23.3" font-size="7.4" text-anchor="start" fill="#333" >P = 0.081</text>
<text x="371.2" y="34.3" font-size="11" text-anchor="start" fill="#222" stroke="#222" stroke-width="0.28">*</text>
<path d="M365.6,37 V31.4 H380 V49" stroke="#333" stroke-width="0.9" fill="none"/>
<text x="373.0" y="54.6" font-size="7.4" text-anchor="start" fill="#333" >P &lt;0.001</text>
<text x="373.0" y="63.3" font-size="11" text-anchor="start" fill="#222" textLength="14.850000000000001" lengthAdjust="spacingAndGlyphs" stroke="#222" stroke-width="0.28">***</text>
<path d="M374.4,71 V60.4 H385.2 V143" stroke="#333" stroke-width="0.9" fill="none"/>
<text x="389.0" y="92.8" font-size="7.4" text-anchor="start" fill="#333" >P =</text>
<text x="386.0" y="103.0" font-size="7.4" text-anchor="start" fill="#333" >0.002</text>
<text x="387.0" y="117.3" font-size="11" text-anchor="start" fill="#222" textLength="14.850000000000001" lengthAdjust="spacingAndGlyphs" stroke="#222" stroke-width="0.28">***</text>
<path d="M387.5,150 V115.7 H397.8 V124.3" stroke="#333" stroke-width="0.9" fill="none"/>
<text x="416.0" y="92.8" font-size="7.4" text-anchor="start" fill="#333" >P =</text>
<text x="412.6" y="103.0" font-size="7.4" text-anchor="start" fill="#333" >0.045</text>
<text x="418.0" y="112.7" font-size="11" text-anchor="start" fill="#222" textLength="9.9" lengthAdjust="spacingAndGlyphs" stroke="#222" stroke-width="0.28">**</text>
<path d="M418,123 V111.6 H429 V159" stroke="#333" stroke-width="0.9" fill="none"/>
<text x="425.6" y="53.6" font-size="7.4" text-anchor="start" fill="#333" >P =</text>
<text x="422.0" y="63.4" font-size="7.4" text-anchor="start" fill="#333" >0.003</text>
<text x="423.0" y="78.9" font-size="11" text-anchor="start" fill="#222" textLength="14.850000000000001" lengthAdjust="spacingAndGlyphs" stroke="#222" stroke-width="0.28">***</text>
<path d="M421.4,85 V78.6 H438.4 V187" stroke="#333" stroke-width="0.9" fill="none"/>
<rect x="497.6" y="20.6" width="32" height="206" rx="5" fill="#dcf3dc"/>
<rect x="498.4" y="185.8" width="9.3" height="39.5" fill="#c6782a" stroke="#9a9a9a" stroke-width="0.6"/>
<rect x="508.8" y="185.8" width="9.3" height="39.5" fill="#c6782a" stroke="#9a9a9a" stroke-width="0.6"/>
<rect x="519.1" y="222.8" width="9.3" height="2.5" fill="#b8889e" stroke="#9a9a9a" stroke-width="0.6"/>
<rect x="539.8" y="110.9" width="9.3" height="114.4" fill="#d6611b" stroke="#9a9a9a" stroke-width="0.6"/>
<rect x="550.2" y="217.0" width="9.3" height="8.3" fill="#c676b0" stroke="#9a9a9a" stroke-width="0.6"/>
<rect x="560.6" y="187.9" width="9.3" height="37.4" fill="#c676b0" stroke="#9a9a9a" stroke-width="0.6"/>
<rect x="570.9" y="167.1" width="9.3" height="58.2" fill="#c676b0" stroke="#9a9a9a" stroke-width="0.6"/>
<rect x="581.3" y="144.2" width="9.3" height="81.1" fill="#c676b0" stroke="#9a9a9a" stroke-width="0.6"/>
<rect x="591.6" y="171.2" width="9.3" height="54.1" fill="#3a7ab8" stroke="#9a9a9a" stroke-width="0.6"/>
<rect x="602.0" y="200.3" width="9.3" height="25.0" fill="#3a7ab8" stroke="#9a9a9a" stroke-width="0.6"/>
<rect x="612.4" y="219.1" width="9.3" height="6.2" fill="#3a7ab8" stroke="#9a9a9a" stroke-width="0.6"/>
<rect x="622.7" y="220.1" width="9.3" height="5.2" fill="#3a7ab8" stroke="#9a9a9a" stroke-width="0.6"/>
<rect x="633.1" y="221.1" width="9.3" height="4.2" fill="#4cae78" stroke="#9a9a9a" stroke-width="0.6"/>
<rect x="529.5" y="28" width="9.3" height="197.3" fill="#d6611b" stroke="#9a9a9a" stroke-width="0.6"/>
<rect x="528.5" y="34" width="11.3" height="3.4" fill="#fff"/>
<path d="M534.1,25.5 V29.5 M531.8,25.5 h4.6 M531.8,29.5 h4.6" stroke="#111" stroke-width="1.3" fill="none"/>
<circle cx="534.1" cy="23.5" r="1.5" fill="#e8c462"/>
<circle cx="533.1" cy="27.0" r="1.5" fill="#e8c462"/>
<circle cx="535.1" cy="28.5" r="1.5" fill="#e8c462"/>
<path d="M503.0,179.5 V192.0 M499.9,179.5 h6.2 M499.9,192.0 h6.2" stroke="#111" stroke-width="1.4" fill="none"/>
<circle cx="503.3" cy="177.0" r="1.75" fill="#e8c462"/>
<circle cx="502.2" cy="185.2" r="1.75" fill="#e8c462"/>
<circle cx="503.2" cy="191.4" r="1.75" fill="#e8c462"/>
<path d="M513.4,177.5 V194.1 M510.3,177.5 h6.2 M510.3,194.1 h6.2" stroke="#111" stroke-width="1.4" fill="none"/>
<circle cx="513.7" cy="174.1" r="1.75" fill="#e8c462"/>
<circle cx="512.6" cy="184.9" r="1.75" fill="#e8c462"/>
<circle cx="513.6" cy="193.3" r="1.75" fill="#e8c462"/>
<path d="M523.8,222.0 V223.6 M520.7,222.0 h6.2 M520.7,223.6 h6.2" stroke="#111" stroke-width="1.4" fill="none"/>
<circle cx="524.1" cy="221.6" r="1.75" fill="#e8c462"/>
<circle cx="523.0" cy="222.7" r="1.75" fill="#e8c462"/>
<circle cx="524.0" cy="223.6" r="1.75" fill="#e8c462"/>
<path d="M544.5,105.7 V116.1 M541.4,105.7 h6.2 M541.4,116.1 h6.2" stroke="#111" stroke-width="1.4" fill="none"/>
<circle cx="544.8" cy="103.6" r="1.75" fill="#e8c462"/>
<circle cx="543.7" cy="110.4" r="1.75" fill="#e8c462"/>
<circle cx="544.7" cy="115.6" r="1.75" fill="#e8c462"/>
<path d="M554.8,215.3 V218.6 M551.7,215.3 h6.2 M551.7,218.6 h6.2" stroke="#111" stroke-width="1.4" fill="none"/>
<circle cx="555.1" cy="214.7" r="1.75" fill="#e8c462"/>
<circle cx="554.0" cy="216.8" r="1.75" fill="#e8c462"/>
<circle cx="555.0" cy="218.5" r="1.75" fill="#e8c462"/>
<path d="M565.2,181.6 V194.1 M562.1,181.6 h6.2 M562.1,194.1 h6.2" stroke="#111" stroke-width="1.4" fill="none"/>
<circle cx="565.5" cy="179.1" r="1.75" fill="#e8c462"/>
<circle cx="564.4" cy="187.2" r="1.75" fill="#e8c462"/>
<circle cx="565.4" cy="193.5" r="1.75" fill="#e8c462"/>
<path d="M575.6,162.9 V171.2 M572.5,162.9 h6.2 M572.5,171.2 h6.2" stroke="#111" stroke-width="1.4" fill="none"/>
<circle cx="575.9" cy="161.2" r="1.75" fill="#e8c462"/>
<circle cx="574.8" cy="166.6" r="1.75" fill="#e8c462"/>
<circle cx="575.8" cy="170.8" r="1.75" fill="#e8c462"/>
<path d="M585.9,137.9 V150.4 M582.8,137.9 h6.2 M582.8,150.4 h6.2" stroke="#111" stroke-width="1.4" fill="none"/>
<circle cx="586.2" cy="135.4" r="1.75" fill="#e8c462"/>
<circle cx="585.1" cy="143.6" r="1.75" fill="#e8c462"/>
<circle cx="586.1" cy="149.8" r="1.75" fill="#e8c462"/>
<path d="M596.3,166.0 V176.4 M593.2,166.0 h6.2 M593.2,176.4 h6.2" stroke="#111" stroke-width="1.4" fill="none"/>
<circle cx="596.6" cy="163.9" r="1.75" fill="#e8c462"/>
<circle cx="595.5" cy="170.7" r="1.75" fill="#e8c462"/>
<circle cx="596.5" cy="175.9" r="1.75" fill="#e8c462"/>
<path d="M606.6,197.8 V202.8 M603.5,197.8 h6.2 M603.5,202.8 h6.2" stroke="#111" stroke-width="1.4" fill="none"/>
<circle cx="606.9" cy="196.8" r="1.75" fill="#e8c462"/>
<circle cx="605.9" cy="200.1" r="1.75" fill="#e8c462"/>
<circle cx="606.9" cy="202.6" r="1.75" fill="#e8c462"/>
<path d="M617.0,217.4 V220.7 M613.9,217.4 h6.2 M613.9,220.7 h6.2" stroke="#111" stroke-width="1.4" fill="none"/>
<circle cx="617.3" cy="216.7" r="1.75" fill="#e8c462"/>
<circle cx="616.2" cy="218.9" r="1.75" fill="#e8c462"/>
<circle cx="617.2" cy="220.6" r="1.75" fill="#e8c462"/>
<path d="M627.4,218.6 V221.6 M624.3,218.6 h6.2 M624.3,221.6 h6.2" stroke="#111" stroke-width="1.4" fill="none"/>
<circle cx="627.7" cy="218.1" r="1.75" fill="#e8c462"/>
<circle cx="626.6" cy="220.0" r="1.75" fill="#e8c462"/>
<circle cx="627.6" cy="221.4" r="1.75" fill="#e8c462"/>
<path d="M637.7,219.9 V222.4 M634.6,219.9 h6.2 M634.6,222.4 h6.2" stroke="#111" stroke-width="1.4" fill="none"/>
<circle cx="638.0" cy="219.4" r="1.75" fill="#e8c462"/>
<circle cx="636.9" cy="221.0" r="1.75" fill="#e8c462"/>
<circle cx="637.9" cy="222.3" r="1.75" fill="#e8c462"/>
<line x1="645.6" y1="38" x2="645.6" y2="226" stroke="#1010e8" stroke-width="1.6"/>
<line x1="646.6" y1="25" x2="646.6" y2="35" stroke="#1010e8" stroke-width="2.4"/>
<path d="M644.2,38.5 L647.5,34.5" stroke="#1010e8" stroke-width="1.1"/>
<line x1="497" y1="225.6" x2="646.4" y2="225.6" stroke="#1010e8" stroke-width="1.6"/>
<line x1="645.6" y1="225.3" x2="649" y2="225.3" stroke="#1010e8" stroke-width="1.3"/>
<text x="650.4" y="229.2" font-size="11.6" text-anchor="start" fill="#222"  stroke="#222" stroke-width="0.28">0.0</text>
<line x1="645.6" y1="204.5" x2="649" y2="204.5" stroke="#1010e8" stroke-width="1.3"/>
<text x="650.4" y="208.4" font-size="11.6" text-anchor="start" fill="#222"  stroke="#222" stroke-width="0.28">0.1</text>
<line x1="645.6" y1="183.7" x2="649" y2="183.7" stroke="#1010e8" stroke-width="1.3"/>
<text x="650.4" y="187.6" font-size="11.6" text-anchor="start" fill="#222"  stroke="#222" stroke-width="0.28">0.2</text>
<line x1="645.6" y1="162.9" x2="649" y2="162.9" stroke="#1010e8" stroke-width="1.3"/>
<text x="650.4" y="166.8" font-size="11.6" text-anchor="start" fill="#222"  stroke="#222" stroke-width="0.28">0.3</text>
<line x1="645.6" y1="142.1" x2="649" y2="142.1" stroke="#1010e8" stroke-width="1.3"/>
<text x="650.4" y="146.0" font-size="11.6" text-anchor="start" fill="#222"  stroke="#222" stroke-width="0.28">0.4</text>
<line x1="645.6" y1="121.3" x2="649" y2="121.3" stroke="#1010e8" stroke-width="1.3"/>
<text x="650.4" y="125.2" font-size="11.6" text-anchor="start" fill="#222"  stroke="#222" stroke-width="0.28">0.5</text>
<line x1="645.6" y1="100.5" x2="649" y2="100.5" stroke="#1010e8" stroke-width="1.3"/>
<text x="650.4" y="104.4" font-size="11.6" text-anchor="start" fill="#222"  stroke="#222" stroke-width="0.28">0.6</text>
<line x1="645.6" y1="79.7" x2="649" y2="79.7" stroke="#1010e8" stroke-width="1.3"/>
<text x="650.4" y="83.6" font-size="11.6" text-anchor="start" fill="#222"  stroke="#222" stroke-width="0.28">0.7</text>
<line x1="645.6" y1="58.9" x2="649" y2="58.9" stroke="#1010e8" stroke-width="1.3"/>
<text x="650.4" y="62.8" font-size="11.6" text-anchor="start" fill="#222"  stroke="#222" stroke-width="0.28">0.8</text>
<text x="650.4" y="28.4" font-size="11.6" text-anchor="start" fill="#222"  stroke="#222" stroke-width="0.28">6.5</text>
<line x1="503.0" y1="226" x2="503.0" y2="229" stroke="#1010e8" stroke-width="1.3"/>
<text x="0" y="0" font-size="11.6" text-anchor="end" fill="#111" transform="translate(507.3,234.8) rotate(-67)" stroke="#111" stroke-width="0.28">7 <tspan font-style="italic">nt</tspan></text>
<line x1="513.4" y1="226" x2="513.4" y2="229" stroke="#1010e8" stroke-width="1.3"/>
<text x="0" y="0" font-size="11.6" text-anchor="end" fill="#111" transform="translate(517.7,234.8) rotate(-67)" stroke="#111" stroke-width="0.28">8 <tspan font-style="italic">nt</tspan></text>
<line x1="523.8" y1="226" x2="523.8" y2="229" stroke="#1010e8" stroke-width="1.3"/>
<text x="0" y="0" font-size="11.6" text-anchor="end" fill="#111" transform="translate(528.1,234.8) rotate(-67)" stroke="#111" stroke-width="0.28">9 <tspan font-style="italic">nt</tspan></text>
<line x1="534.1" y1="226" x2="534.1" y2="229" stroke="#1010e8" stroke-width="1.3"/>
<text x="0" y="0" font-size="11.6" text-anchor="end" fill="#111" transform="translate(538.4,234.8) rotate(-67)" stroke="#111" stroke-width="0.28">7 <tspan font-style="italic">nt</tspan></text>
<line x1="544.5" y1="226" x2="544.5" y2="229" stroke="#1010e8" stroke-width="1.3"/>
<text x="0" y="0" font-size="11.6" text-anchor="end" fill="#111" transform="translate(548.8,234.8) rotate(-67)" stroke="#111" stroke-width="0.28">8 <tspan font-style="italic">nt</tspan></text>
<line x1="554.8" y1="226" x2="554.8" y2="229" stroke="#1010e8" stroke-width="1.3"/>
<text x="0" y="0" font-size="11.6" text-anchor="end" fill="#111" transform="translate(559.1,234.8) rotate(-67)" stroke="#111" stroke-width="0.28">9 <tspan font-style="italic">nt</tspan></text>
<line x1="565.2" y1="226" x2="565.2" y2="229" stroke="#1010e8" stroke-width="1.3"/>
<text x="0" y="0" font-size="11.6" text-anchor="end" fill="#111" transform="translate(569.5,234.8) rotate(-67)" stroke="#111" stroke-width="0.28">10 <tspan font-style="italic">nt</tspan></text>
<line x1="575.6" y1="226" x2="575.6" y2="229" stroke="#1010e8" stroke-width="1.3"/>
<text x="0" y="0" font-size="11.6" text-anchor="end" fill="#111" transform="translate(579.9,234.8) rotate(-67)" stroke="#111" stroke-width="0.28">11 <tspan font-style="italic">nt</tspan></text>
<line x1="585.9" y1="226" x2="585.9" y2="229" stroke="#1010e8" stroke-width="1.3"/>
<text x="0" y="0" font-size="11.6" text-anchor="end" fill="#111" transform="translate(590.2,234.8) rotate(-67)" stroke="#111" stroke-width="0.28">12 <tspan font-style="italic">nt</tspan></text>
<line x1="596.3" y1="226" x2="596.3" y2="229" stroke="#1010e8" stroke-width="1.3"/>
<text x="0" y="0" font-size="11.6" text-anchor="end" fill="#111" transform="translate(600.6,234.8) rotate(-67)" stroke="#111" stroke-width="0.28">13 <tspan font-style="italic">nt</tspan></text>
<line x1="606.6" y1="226" x2="606.6" y2="229" stroke="#1010e8" stroke-width="1.3"/>
<text x="0" y="0" font-size="11.6" text-anchor="end" fill="#111" transform="translate(610.9,234.8) rotate(-67)" stroke="#111" stroke-width="0.28">14 <tspan font-style="italic">nt</tspan></text>
<line x1="617.0" y1="226" x2="617.0" y2="229" stroke="#1010e8" stroke-width="1.3"/>
<text x="0" y="0" font-size="11.6" text-anchor="end" fill="#111" transform="translate(621.3,234.8) rotate(-67)" stroke="#111" stroke-width="0.28">15 <tspan font-style="italic">nt</tspan></text>
<line x1="627.4" y1="226" x2="627.4" y2="229" stroke="#1010e8" stroke-width="1.3"/>
<text x="0" y="0" font-size="11.6" text-anchor="end" fill="#111" transform="translate(631.7,234.8) rotate(-67)" stroke="#111" stroke-width="0.28">16 <tspan font-style="italic">nt</tspan></text>
<line x1="637.7" y1="226" x2="637.7" y2="229" stroke="#1010e8" stroke-width="1.3"/>
<text x="0" y="0" font-size="11.6" text-anchor="end" fill="#111" transform="translate(642.0,234.8) rotate(-67)" stroke="#111" stroke-width="0.28">18 <tspan font-style="italic">nt</tspan></text>
<text x="0" y="0" font-size="10.5" text-anchor="middle" fill="#5b8df2" transform="translate(681.5,120.5) rotate(-90)" stroke="#5b8df2" stroke-width="0.28"><tspan font-style="italic">k</tspan><tspan font-size="7" dy="2" font-style="italic">dis</tspan><tspan dy="-2"> (s</tspan><tspan font-size="7" dy="-4">-1</tspan><tspan dy="4">)</tspan></text>
<text x="513.5" y="143.0" font-size="10" text-anchor="middle" fill="#333" >miR-21</text>
<text x="513.5" y="155.0" font-size="10" text-anchor="middle" fill="#333" >alone</text>
<text x="518.0" y="7.2" font-size="7.4" text-anchor="start" fill="#333" >P &lt;0.001</text>
<text x="532.4" y="18.3" font-size="11" text-anchor="start" fill="#222" textLength="14.850000000000001" lengthAdjust="spacingAndGlyphs" stroke="#222" stroke-width="0.28">***</text>
<path d="M534,23 V18.4 H546 V44.4" stroke="#333" stroke-width="0.9" fill="none"/>
<text x="540.6" y="80.2" font-size="7.4" text-anchor="start" fill="#333" >P &lt;0.001</text>
<text x="541.6" y="92.3" font-size="11" text-anchor="start" fill="#222" textLength="14.850000000000001" lengthAdjust="spacingAndGlyphs" stroke="#222" stroke-width="0.28">***</text>
<path d="M545,96 V92.6 H553.4 V129" stroke="#333" stroke-width="0.9" fill="none"/>
<text x="556.6" y="111.2" font-size="7.4" text-anchor="start" fill="#333" >P = 0.021</text>
<text x="573.0" y="123.9" font-size="11" text-anchor="start" fill="#222" textLength="9.9" lengthAdjust="spacingAndGlyphs" stroke="#222" stroke-width="0.28">**</text>
<path d="M572.4,133 V120.4 H582.6 V132" stroke="#333" stroke-width="0.9" fill="none"/>
<text x="590.0" y="116.8" font-size="7.4" text-anchor="start" fill="#333" >P = 0.018</text>
<text x="588.4" y="126.3" font-size="11" text-anchor="start" fill="#222" textLength="9.9" lengthAdjust="spacingAndGlyphs" stroke="#222" stroke-width="0.28">**</text>
<path d="M588,133 V123.6 H598 V132" stroke="#333" stroke-width="0.9" fill="none"/>
<text x="549.6" y="139.2" font-size="7.4" text-anchor="start" fill="#333" >P = 0.038</text>
<text x="566.0" y="147.7" font-size="11" text-anchor="start" fill="#222" textLength="9.9" lengthAdjust="spacingAndGlyphs" stroke="#222" stroke-width="0.28">**</text>
<path d="M565,162 V146.4 H576.4 V160" stroke="#333" stroke-width="0.9" fill="none"/>
<text x="552.0" y="152.2" font-size="7.4" text-anchor="start" fill="#333" >P =</text>
<text x="549.6" y="162.2" font-size="7.4" text-anchor="start" fill="#333" >0.008</text>
<text x="551.0" y="171.3" font-size="11" text-anchor="start" fill="#222" textLength="14.850000000000001" lengthAdjust="spacingAndGlyphs" stroke="#222" stroke-width="0.28">***</text>
<path d="M554.6,190 V169 H565.6 V178" stroke="#333" stroke-width="0.9" fill="none"/>
<text x="595.0" y="144.2" font-size="7.4" text-anchor="start" fill="#333" >P = 0.006</text>
<text x="594.0" y="153.9" font-size="11" text-anchor="start" fill="#222" textLength="14.850000000000001" lengthAdjust="spacingAndGlyphs" stroke="#222" stroke-width="0.28">***</text>
<path d="M596,166 V153.6 H606.4 V171" stroke="#333" stroke-width="0.9" fill="none"/>
<text x="604.6" y="175.8" font-size="7.4" text-anchor="start" fill="#333" >P = 0.003</text>
<text x="604.6" y="185.7" font-size="11" text-anchor="start" fill="#222" textLength="14.850000000000001" lengthAdjust="spacingAndGlyphs" stroke="#222" stroke-width="0.28">***</text>
<path d="M606.4,189 V184.4 H617.4 V201.4" stroke="#333" stroke-width="0.9" fill="none"/>
<path d="M24,264.1 L27.6,258.6 L30.5,258.6" stroke="#4a3a90" stroke-width="1.5" fill="none"/>
<path d="M27.6,258.6 L24.8,256.8" stroke="#4a3a90" stroke-width="1.5" fill="none"/>
<circle cx="24.3" cy="254.70000000000002" r="2.3" fill="#f23c78"/>
<line x1="32.5" y1="258.6" x2="92" y2="258.6" stroke="#d6611b" stroke-width="1.6"/>
<line x1="92" y1="258.6" x2="100.5" y2="258.6" stroke="#c676b0" stroke-width="1.6"/>
<line x1="100.0" y1="258.6" x2="100.0" y2="265.1" stroke="#c676b0" stroke-width="1.4"/>
<line x1="35.4" y1="258.6" x2="35.4" y2="265.40000000000003" stroke="#d6611b" stroke-width="1.4"/>
<line x1="44.5" y1="258.6" x2="44.5" y2="265.40000000000003" stroke="#d6611b" stroke-width="1.4"/>
<line x1="53.6" y1="258.6" x2="53.6" y2="265.40000000000003" stroke="#d6611b" stroke-width="1.4"/>
<line x1="62.7" y1="258.6" x2="62.7" y2="265.40000000000003" stroke="#d6611b" stroke-width="1.4"/>
<line x1="71.8" y1="258.6" x2="71.8" y2="265.40000000000003" stroke="#d6611b" stroke-width="1.4"/>
<line x1="80.9" y1="258.6" x2="80.9" y2="265.40000000000003" stroke="#d6611b" stroke-width="1.4"/>
<line x1="90.0" y1="258.6" x2="90.0" y2="265.40000000000003" stroke="#d6611b" stroke-width="1.4"/>
<circle cx="103.8" cy="256.8" r="3.45" fill="#e2eafa" stroke="#86a0dc" stroke-width="0.8"/>
<text x="103.8" y="259.3" font-size="6.8" text-anchor="middle" fill="#222" stroke="#222" stroke-width="0.28">A</text>
<circle cx="109.9" cy="253.7" r="3.45" fill="#e2eafa" stroke="#86a0dc" stroke-width="0.8"/>
<text x="109.9" y="256.1" font-size="6.8" text-anchor="middle" fill="#222" stroke="#222" stroke-width="0.28">A</text>
<circle cx="116.0" cy="250.5" r="3.45" fill="#e2eafa" stroke="#86a0dc" stroke-width="0.8"/>
<text x="116.0" y="253.0" font-size="6.8" text-anchor="middle" fill="#222" stroke="#222" stroke-width="0.28">A</text>
<text x="50" y="254.8" font-size="8.5" fill="#c676b0" stroke="#c676b0" stroke-width="0.28">t9<tspan font-size="5.5" dy="1.5">s</tspan><tspan dy="-1.5">+3A</tspan></text>
<path d="M24,281.3 L27.6,275.8 L30.5,275.8" stroke="#4a3a90" stroke-width="1.5" fill="none"/>
<path d="M27.6,275.8 L24.8,274.0" stroke="#4a3a90" stroke-width="1.5" fill="none"/>
<circle cx="24.3" cy="271.90000000000003" r="2.3" fill="#f23c78"/>
<line x1="32.5" y1="275.8" x2="92.4" y2="275.8" stroke="#d6611b" stroke-width="1.6"/>
<line x1="35.4" y1="275.8" x2="35.4" y2="282.6" stroke="#d6611b" stroke-width="1.4"/>
<line x1="44.5" y1="275.8" x2="44.5" y2="282.6" stroke="#d6611b" stroke-width="1.4"/>
<line x1="53.6" y1="275.8" x2="53.6" y2="282.6" stroke="#d6611b" stroke-width="1.4"/>
<line x1="62.7" y1="275.8" x2="62.7" y2="282.6" stroke="#d6611b" stroke-width="1.4"/>
<line x1="71.8" y1="275.8" x2="71.8" y2="282.6" stroke="#d6611b" stroke-width="1.4"/>
<line x1="80.9" y1="275.8" x2="80.9" y2="282.6" stroke="#d6611b" stroke-width="1.4"/>
<line x1="90.0" y1="275.8" x2="90.0" y2="282.6" stroke="#d6611b" stroke-width="1.4"/>
<circle cx="96.4" cy="274.5" r="3.45" fill="#e2eafa" stroke="#86a0dc" stroke-width="0.8"/>
<text x="96.4" y="277.0" font-size="6.8" text-anchor="middle" fill="#222" stroke="#222" stroke-width="0.28">A</text>
<circle cx="102.4" cy="270.9" r="3.45" fill="#e2eafa" stroke="#86a0dc" stroke-width="0.8"/>
<text x="102.4" y="273.4" font-size="6.8" text-anchor="middle" fill="#222" stroke="#222" stroke-width="0.28">A</text>
<circle cx="108.4" cy="267.3" r="3.45" fill="#e2eafa" stroke="#86a0dc" stroke-width="0.8"/>
<text x="108.4" y="269.8" font-size="6.8" text-anchor="middle" fill="#222" stroke="#222" stroke-width="0.28">A</text>
<circle cx="114.4" cy="263.7" r="3.45" fill="#e2eafa" stroke="#86a0dc" stroke-width="0.8"/>
<text x="114.4" y="266.2" font-size="6.8" text-anchor="middle" fill="#222" stroke="#222" stroke-width="0.28">A</text>
<text x="50" y="272.0" font-size="8.5" fill="#d6611b" stroke="#d6611b" stroke-width="0.28">t8<tspan font-size="5.5" dy="1.5">s</tspan><tspan dy="-1.5">+4A</tspan></text>
<path d="M24.8,289.8 L29.7,295 L34.2,294.6 M29.7,295 L28.9,297.4" stroke="#4a3a90" stroke-width="1.6" fill="none" stroke-linecap="round"/>
<line x1="33.5" y1="294.6" x2="92" y2="294.6" stroke="#d6611b" stroke-width="1.6"/>
<line x1="92" y1="294.6" x2="131.6" y2="294.6" stroke="#c676b0" stroke-width="1.6"/>
<line x1="131.6" y1="294.6" x2="170" y2="294.6" stroke="#3a7ab8" stroke-width="1.6"/>
<line x1="170" y1="294.6" x2="224.4" y2="294.6" stroke="#4cae78" stroke-width="1.6"/>
<line x1="36.0" y1="294.6" x2="36.0" y2="287.8" stroke="#d6611b" stroke-width="1.4"/>
<line x1="45.3" y1="294.6" x2="45.3" y2="287.8" stroke="#d6611b" stroke-width="1.4"/>
<line x1="54.6" y1="294.6" x2="54.6" y2="287.8" stroke="#d6611b" stroke-width="1.4"/>
<line x1="63.9" y1="294.6" x2="63.9" y2="287.8" stroke="#d6611b" stroke-width="1.4"/>
<line x1="73.2" y1="294.6" x2="73.2" y2="287.8" stroke="#d6611b" stroke-width="1.4"/>
<line x1="82.5" y1="294.6" x2="82.5" y2="287.8" stroke="#d6611b" stroke-width="1.4"/>
<line x1="91.8" y1="294.6" x2="91.8" y2="287.8" stroke="#d6611b" stroke-width="1.4"/>
<line x1="101.1" y1="294.6" x2="101.1" y2="287.8" stroke="#c676b0" stroke-width="1.4"/>
<line x1="110.4" y1="294.6" x2="110.4" y2="287.8" stroke="#c676b0" stroke-width="1.4"/>
<line x1="119.7" y1="294.6" x2="119.7" y2="287.8" stroke="#c676b0" stroke-width="1.4"/>
<line x1="129.0" y1="294.6" x2="129.0" y2="287.8" stroke="#c676b0" stroke-width="1.4"/>
<line x1="138.3" y1="294.6" x2="138.3" y2="287.8" stroke="#3a7ab8" stroke-width="1.4"/>
<line x1="147.6" y1="294.6" x2="147.6" y2="287.8" stroke="#3a7ab8" stroke-width="1.4"/>
<line x1="156.9" y1="294.6" x2="156.9" y2="287.8" stroke="#3a7ab8" stroke-width="1.4"/>
<line x1="166.2" y1="294.6" x2="166.2" y2="287.8" stroke="#3a7ab8" stroke-width="1.4"/>
<line x1="175.5" y1="294.6" x2="175.5" y2="287.8" stroke="#4cae78" stroke-width="1.4"/>
<line x1="184.8" y1="294.6" x2="184.8" y2="287.8" stroke="#4cae78" stroke-width="1.4"/>
<line x1="194.1" y1="294.6" x2="194.1" y2="287.8" stroke="#4cae78" stroke-width="1.4"/>
<line x1="203.4" y1="294.6" x2="203.4" y2="287.8" stroke="#4cae78" stroke-width="1.4"/>
<line x1="212.7" y1="294.6" x2="212.7" y2="287.8" stroke="#4cae78" stroke-width="1.4"/>
<line x1="222.0" y1="294.6" x2="222.0" y2="287.8" stroke="#4cae78" stroke-width="1.4"/>
<text x="227.4" y="297.6" font-size="9.5" text-anchor="start" fill="#222"  stroke="#222" stroke-width="0.28">3'</text>
<text x="0" y="0" font-size="10" fill="#222" transform="translate(18.3,300.2) rotate(20)" stroke="#222" stroke-width="0.28">5'</text>
<rect x="36.6" y="330.8" width="18" height="107.4" fill="#d6611b" stroke="#f0b49a" stroke-width="0.8"/>
<rect x="59.0" y="345.8" width="18" height="92.4" fill="#d6611b" stroke="#f0b49a" stroke-width="0.8"/>
<rect x="81.3" y="421.7" width="18" height="16.5" fill="#c676b0" stroke="#f0b49a" stroke-width="0.8"/>
<rect x="103.6" y="380.6" width="18" height="57.6" fill="#c676b0" stroke="#f0b49a" stroke-width="0.8"/>
<path d="M45.6,320.0 V341.0 M43.1,320.0 h5 M43.1,341.0 h5" stroke="#111" stroke-width="1.3" fill="none"/>
<circle cx="45.6" cy="317.0" r="1.8" fill="#e8c462"/>
<circle cx="45.6" cy="334.0" r="1.8" fill="#e8c462"/>
<circle cx="45.6" cy="342.0" r="1.8" fill="#e8c462"/>
<path d="M68.0,333.0 V357.0 M65.5,333.0 h5 M65.5,357.0 h5" stroke="#111" stroke-width="1.3" fill="none"/>
<circle cx="68.0" cy="329.0" r="1.8" fill="#e8c462"/>
<circle cx="68.0" cy="352.0" r="1.8" fill="#e8c462"/>
<circle cx="68.0" cy="357.0" r="1.8" fill="#e8c462"/>
<path d="M90.3,419.0 V423.0 M88.3,419.0 h4 M88.3,423.0 h4" stroke="#111" stroke-width="1.3" fill="none"/>
<circle cx="87.3" cy="418.5" r="1.8" fill="#e8c462"/>
<circle cx="92.3" cy="420.5" r="1.8" fill="#e8c462"/>
<circle cx="89.3" cy="421.0" r="1.8" fill="#e8c462"/>
<path d="M112.6,376.0 V384.0 M110.6,376.0 h4 M110.6,384.0 h4" stroke="#111" stroke-width="1.3" fill="none"/>
<circle cx="112.6" cy="375.0" r="1.8" fill="#e8c462"/>
<circle cx="112.6" cy="380.0" r="1.8" fill="#e8c462"/>
<circle cx="112.6" cy="386.0" r="1.8" fill="#e8c462"/>
<line x1="35" y1="305" x2="35" y2="439" stroke="#111" stroke-width="1.4"/>
<line x1="34.5" y1="438.5" x2="122" y2="438.5" stroke="#111" stroke-width="1.4"/>
<line x1="31.5" y1="438.2" x2="35" y2="438.2" stroke="#333" stroke-width="1.2"/>
<text x="30.3" y="442.4" font-size="11.7" text-anchor="end" fill="#222"  stroke="#222" stroke-width="0.28">0.0</text>
<line x1="31.5" y1="405.2" x2="35" y2="405.2" stroke="#333" stroke-width="1.2"/>
<text x="30.3" y="409.4" font-size="11.7" text-anchor="end" fill="#222"  stroke="#222" stroke-width="0.28">0.2</text>
<line x1="31.5" y1="372.2" x2="35" y2="372.2" stroke="#333" stroke-width="1.2"/>
<text x="30.3" y="376.4" font-size="11.7" text-anchor="end" fill="#222"  stroke="#222" stroke-width="0.28">0.4</text>
<line x1="31.5" y1="339.2" x2="35" y2="339.2" stroke="#333" stroke-width="1.2"/>
<text x="30.3" y="343.4" font-size="11.7" text-anchor="end" fill="#222"  stroke="#222" stroke-width="0.28">0.6</text>
<line x1="31.5" y1="306.2" x2="35" y2="306.2" stroke="#333" stroke-width="1.2"/>
<text x="30.3" y="311.8" font-size="11.7" text-anchor="end" fill="#222"  stroke="#222" stroke-width="0.28">0.8</text>
<line x1="32" y1="421.7" x2="35" y2="421.7" stroke="#333" stroke-width="1"/>
<line x1="32" y1="388.7" x2="35" y2="388.7" stroke="#333" stroke-width="1"/>
<line x1="32" y1="355.7" x2="35" y2="355.7" stroke="#333" stroke-width="1"/>
<line x1="32" y1="322.7" x2="35" y2="322.7" stroke="#333" stroke-width="1"/>
<line x1="123.4" y1="432" x2="123.4" y2="446" stroke="#222" stroke-width="0.9" stroke-dasharray="1.6,1.6"/>
<line x1="134.4" y1="432" x2="134.4" y2="446" stroke="#222" stroke-width="0.9" stroke-dasharray="1.6,1.6"/>
<text x="0" y="0" font-size="11" text-anchor="middle" fill="#222" transform="translate(11.2,368.5) rotate(-90)" stroke="#222" stroke-width="0.28"><tspan font-style="italic">k</tspan><tspan font-size="7" dy="2" font-style="italic">a</tspan><tspan dy="-2"> ( x10</tspan><tspan font-size="7" dy="-4">7</tspan><tspan dy="4"> M</tspan><tspan font-size="7" dy="-4">-1</tspan><tspan dy="4">s</tspan><tspan font-size="7" dy="-4">-1</tspan><tspan dy="4">)</tspan></text>
<text x="84.0" y="346.4" font-size="8.2" text-anchor="start" fill="#333" textLength="29.5" lengthAdjust="spacingAndGlyphs">P &lt;0.001</text>
<text x="89.8" y="362.3" font-size="19" text-anchor="start" fill="#111" font-weight="bold" textLength="21" lengthAdjust="spacingAndGlyphs">***</text>
<path d="M87.8,392 V359 H113.4 V362.5" stroke="#444" stroke-width="0.9" fill="none"/>
<rect x="138.6" y="323.8" width="18" height="114.4" fill="#d6611b" stroke="#999" stroke-width="0.7"/>
<rect x="161.0" y="332.6" width="18" height="105.6" fill="#d6611b" stroke="#999" stroke-width="0.7"/>
<rect x="183.3" y="430.3" width="18" height="7.9" fill="#c676b0" stroke="#999" stroke-width="0.7"/>
<rect x="205.6" y="381.0" width="18" height="57.2" fill="#c676b0" stroke="#999" stroke-width="0.7"/>
<path d="M147.6,315.0 V331.0 M145.1,315.0 h5 M145.1,331.0 h5" stroke="#111" stroke-width="1.3" fill="none"/>
<circle cx="147.6" cy="312.0" r="1.8" fill="#e8c462"/>
<circle cx="147.6" cy="325.5" r="1.8" fill="#e8c462"/>
<circle cx="147.6" cy="332.0" r="1.8" fill="#e8c462"/>
<path d="M170.0,320.0 V345.0 M167.5,320.0 h5 M167.5,345.0 h5" stroke="#111" stroke-width="1.3" fill="none"/>
<circle cx="170.0" cy="317.0" r="1.8" fill="#e8c462"/>
<circle cx="170.0" cy="323.5" r="1.8" fill="#e8c462"/>
<circle cx="170.0" cy="345.0" r="1.8" fill="#e8c462"/>
<path d="M192.3,429.0 V432.0 M190.3,429.0 h4 M190.3,432.0 h4" stroke="#111" stroke-width="1.3" fill="none"/>
<circle cx="190.3" cy="427.5" r="1.8" fill="#e8c462"/>
<circle cx="193.3" cy="430.0" r="1.8" fill="#e8c462"/>
<circle cx="192.3" cy="431.0" r="1.8" fill="#e8c462"/>
<path d="M214.6,375.0 V387.0 M212.6,375.0 h4 M212.6,387.0 h4" stroke="#111" stroke-width="1.3" fill="none"/>
<circle cx="214.6" cy="374.5" r="1.8" fill="#e8c462"/>
<circle cx="214.6" cy="382.0" r="1.8" fill="#e8c462"/>
<circle cx="214.6" cy="387.0" r="1.8" fill="#e8c462"/>
<line x1="225.5" y1="305" x2="225.5" y2="439" stroke="#555" stroke-width="1.3"/>
<line x1="137" y1="438.5" x2="226" y2="438.5" stroke="#333" stroke-width="1.4"/>
<line x1="223.5" y1="438.2" x2="225.5" y2="438.2" stroke="#555" stroke-width="1.1"/>
<text x="228.4" y="442.4" font-size="11.5" text-anchor="start" fill="#222"  stroke="#222" stroke-width="0.28">0.0</text>
<line x1="223.5" y1="416.2" x2="225.5" y2="416.2" stroke="#555" stroke-width="1.1"/>
<text x="228.4" y="420.4" font-size="11.5" text-anchor="start" fill="#222"  stroke="#222" stroke-width="0.28">0.1</text>
<line x1="223.5" y1="394.2" x2="225.5" y2="394.2" stroke="#555" stroke-width="1.1"/>
<text x="228.4" y="398.4" font-size="11.5" text-anchor="start" fill="#222"  stroke="#222" stroke-width="0.28">0.2</text>
<line x1="223.5" y1="372.2" x2="225.5" y2="372.2" stroke="#555" stroke-width="1.1"/>
<text x="228.4" y="376.4" font-size="11.5" text-anchor="start" fill="#222"  stroke="#222" stroke-width="0.28">0.3</text>
<line x1="223.5" y1="350.2" x2="225.5" y2="350.2" stroke="#555" stroke-width="1.1"/>
<text x="228.4" y="354.4" font-size="11.5" text-anchor="start" fill="#222"  stroke="#222" stroke-width="0.28">0.4</text>
<line x1="223.5" y1="328.2" x2="225.5" y2="328.2" stroke="#555" stroke-width="1.1"/>
<text x="228.4" y="332.4" font-size="11.5" text-anchor="start" fill="#222"  stroke="#222" stroke-width="0.28">0.5</text>
<line x1="223.5" y1="306.2" x2="225.5" y2="306.2" stroke="#555" stroke-width="1.1"/>
<text x="228.4" y="310.4" font-size="11.5" text-anchor="start" fill="#222"  stroke="#222" stroke-width="0.28">0.6</text>
<text x="0" y="0" font-size="11.6" text-anchor="middle" fill="#2525e8" transform="translate(255.3,361.3) rotate(-90)" stroke="#2525e8" stroke-width="0.28"><tspan font-style="italic">k</tspan><tspan font-size="7" dy="2" font-style="italic">dis</tspan><tspan dy="-2"> (s</tspan><tspan font-size="7" dy="-4">-1</tspan><tspan dy="4">)</tspan></text>
<text x="183.6" y="349.4" font-size="8.2" text-anchor="start" fill="#333" textLength="29.5" lengthAdjust="spacingAndGlyphs">P &lt;0.001</text>
<text x="189.6" y="367.0" font-size="19" text-anchor="start" fill="#111" font-weight="bold" textLength="21" lengthAdjust="spacingAndGlyphs">***</text>
<path d="M188.8,407 V363.4 H213.4 V368" stroke="#444" stroke-width="0.9" fill="none"/>
<line x1="45.6" y1="438.5" x2="45.6" y2="441.5" stroke="#222" stroke-width="1"/>
<text x="0" y="0" font-size="12.2" text-anchor="end" fill="#222" transform="translate(50.6,445.6) rotate(-48)" stroke="#222" stroke-width="0.28">t8<tspan font-size="8.5" dy="1.2">s</tspan></text>
<line x1="68.0" y1="438.5" x2="68.0" y2="441.5" stroke="#222" stroke-width="1"/>
<text x="0" y="0" font-size="12.2" text-anchor="end" fill="#222" transform="translate(73.0,445.6) rotate(-48)" stroke="#222" stroke-width="0.28">t8<tspan font-size="8.5" dy="1.2">s</tspan><tspan dy="-1.2">+4A</tspan></text>
<line x1="90.3" y1="438.5" x2="90.3" y2="441.5" stroke="#222" stroke-width="1"/>
<text x="0" y="0" font-size="12.2" text-anchor="end" fill="#222" transform="translate(95.3,445.6) rotate(-48)" stroke="#222" stroke-width="0.28">t9<tspan font-size="8.5" dy="1.2">s</tspan></text>
<line x1="112.6" y1="438.5" x2="112.6" y2="441.5" stroke="#222" stroke-width="1"/>
<text x="0" y="0" font-size="12.2" text-anchor="end" fill="#222" transform="translate(117.6,445.6) rotate(-48)" stroke="#222" stroke-width="0.28">t9<tspan font-size="8.5" dy="1.2">s</tspan><tspan dy="-1.2">+3A</tspan></text>
<line x1="147.6" y1="438.5" x2="147.6" y2="441.5" stroke="#222" stroke-width="1"/>
<text x="0" y="0" font-size="12.2" text-anchor="end" fill="#222" transform="translate(152.6,445.6) rotate(-48)" stroke="#222" stroke-width="0.28">t8<tspan font-size="8.5" dy="1.2">s</tspan></text>
<line x1="170.0" y1="438.5" x2="170.0" y2="441.5" stroke="#222" stroke-width="1"/>
<text x="0" y="0" font-size="12.2" text-anchor="end" fill="#222" transform="translate(175.0,445.6) rotate(-48)" stroke="#222" stroke-width="0.28">t8<tspan font-size="8.5" dy="1.2">s</tspan><tspan dy="-1.2">+4A</tspan></text>
<line x1="192.3" y1="438.5" x2="192.3" y2="441.5" stroke="#222" stroke-width="1"/>
<text x="0" y="0" font-size="12.2" text-anchor="end" fill="#222" transform="translate(197.3,445.6) rotate(-48)" stroke="#222" stroke-width="0.28">t9<tspan font-size="8.5" dy="1.2">s</tspan></text>
<line x1="214.6" y1="438.5" x2="214.6" y2="441.5" stroke="#222" stroke-width="1"/>
<text x="0" y="0" font-size="12.2" text-anchor="end" fill="#222" transform="translate(219.6,445.6) rotate(-48)" stroke="#222" stroke-width="0.28">t9<tspan font-size="8.5" dy="1.2">s</tspan><tspan dy="-1.2">+3A</tspan></text>
<rect x="298" y="283.6" width="184.4" height="147.6" fill="none" stroke="#111" stroke-width="1.2"/>
<line x1="298" y1="283" x2="298" y2="432" stroke="#111" stroke-width="1.6"/>
<line x1="297.2" y1="431.3" x2="483" y2="431.3" stroke="#111" stroke-width="1.6"/>
<line x1="294.2" y1="430.2" x2="298" y2="430.2" stroke="#111" stroke-width="1.2"/>
<text x="293.4" y="435.2" font-size="11.6" text-anchor="end" fill="#222"  stroke="#222" stroke-width="0.28">0</text>
<line x1="294.2" y1="410.6" x2="298" y2="410.6" stroke="#111" stroke-width="1.2"/>
<text x="293.4" y="415.6" font-size="11.6" text-anchor="end" fill="#222"  stroke="#222" stroke-width="0.28">100</text>
<line x1="294.2" y1="390.9" x2="298" y2="390.9" stroke="#111" stroke-width="1.2"/>
<text x="293.4" y="395.9" font-size="11.6" text-anchor="end" fill="#222"  stroke="#222" stroke-width="0.28">200</text>
<line x1="294.2" y1="371.2" x2="298" y2="371.2" stroke="#111" stroke-width="1.2"/>
<text x="293.4" y="376.2" font-size="11.6" text-anchor="end" fill="#222"  stroke="#222" stroke-width="0.28">300</text>
<line x1="294.2" y1="351.6" x2="298" y2="351.6" stroke="#111" stroke-width="1.2"/>
<text x="293.4" y="356.6" font-size="11.6" text-anchor="end" fill="#222"  stroke="#222" stroke-width="0.28">400</text>
<line x1="294.2" y1="331.9" x2="298" y2="331.9" stroke="#111" stroke-width="1.2"/>
<text x="293.4" y="336.9" font-size="11.6" text-anchor="end" fill="#222"  stroke="#222" stroke-width="0.28">500</text>
<line x1="294.2" y1="312.3" x2="298" y2="312.3" stroke="#111" stroke-width="1.2"/>
<text x="293.4" y="317.3" font-size="11.6" text-anchor="end" fill="#222"  stroke="#222" stroke-width="0.28">600</text>
<line x1="294.2" y1="292.6" x2="298" y2="292.6" stroke="#111" stroke-width="1.2"/>
<text x="293.4" y="297.6" font-size="11.6" text-anchor="end" fill="#222"  stroke="#222" stroke-width="0.28">700</text>
<polyline points="312.4,305.0 328.5,413.5 344.7,423.1 360.8,420.8 377.0,416.6 393.1,413.5 409.3,413.5 425.4,414.5 441.6,424.1 457.8,424.1 473.9,426.3" fill="none" stroke="#bbb" stroke-width="0.7"/>
<rect x="307.8" y="300.7" width="9.2" height="8.6" fill="#d6611b"/>
<path d="M312.4,291.3 V318.8 M309.9,291.3 h5 M309.9,318.8 h5" stroke="#111" stroke-width="1.2" fill="none"/>
<line x1="312.4" y1="431.3" x2="312.4" y2="434.5" stroke="#111" stroke-width="1.1"/>
<rect x="323.9" y="409.2" width="9.2" height="8.6" fill="#d6611b"/>
<path d="M328.5,408.9 V418.1 M325.9,411.6 h5.2 M325.9,415.4 h5.2" stroke="#111" stroke-width="1.2" fill="none"/>
<line x1="328.5" y1="431.3" x2="328.5" y2="434.5" stroke="#111" stroke-width="1.1"/>
<rect x="340.1" y="418.8" width="9.2" height="8.6" fill="#c676b0"/>
<path d="M344.7,418.5 V427.7 M342.1,421.2 h5.2 M342.1,425.0 h5.2" stroke="#111" stroke-width="1.2" fill="none"/>
<line x1="344.7" y1="431.3" x2="344.7" y2="434.5" stroke="#111" stroke-width="1.1"/>
<rect x="356.2" y="416.5" width="9.2" height="8.6" fill="#c676b0"/>
<path d="M360.8,416.2 V425.4 M358.2,418.9 h5.2 M358.2,422.7 h5.2" stroke="#111" stroke-width="1.2" fill="none"/>
<line x1="360.8" y1="431.3" x2="360.8" y2="434.5" stroke="#111" stroke-width="1.1"/>
<rect x="372.4" y="412.3" width="9.2" height="8.6" fill="#c676b0"/>
<path d="M377.0,412.0 V421.2 M374.4,414.7 h5.2 M374.4,418.5 h5.2" stroke="#111" stroke-width="1.2" fill="none"/>
<line x1="377.0" y1="431.3" x2="377.0" y2="434.5" stroke="#111" stroke-width="1.1"/>
<rect x="388.5" y="409.2" width="9.2" height="8.6" fill="#c676b0"/>
<path d="M393.1,408.9 V418.1 M390.5,411.6 h5.2 M390.5,415.4 h5.2" stroke="#111" stroke-width="1.2" fill="none"/>
<line x1="393.1" y1="431.3" x2="393.1" y2="434.5" stroke="#111" stroke-width="1.1"/>
<rect x="404.7" y="409.2" width="9.2" height="8.6" fill="#3a7ab8"/>
<path d="M409.3,408.9 V418.1 M406.7,411.6 h5.2 M406.7,415.4 h5.2" stroke="#111" stroke-width="1.2" fill="none"/>
<line x1="409.3" y1="431.3" x2="409.3" y2="434.5" stroke="#111" stroke-width="1.1"/>
<rect x="420.8" y="410.2" width="9.2" height="8.6" fill="#3a7ab8"/>
<path d="M425.4,409.9 V419.1 M422.8,412.6 h5.2 M422.8,416.4 h5.2" stroke="#111" stroke-width="1.2" fill="none"/>
<line x1="425.4" y1="431.3" x2="425.4" y2="434.5" stroke="#111" stroke-width="1.1"/>
<rect x="437.0" y="419.8" width="9.2" height="8.6" fill="#3a7ab8"/>
<path d="M441.6,419.5 V428.7 M439.0,422.2 h5.2 M439.0,426.0 h5.2" stroke="#111" stroke-width="1.2" fill="none"/>
<line x1="441.6" y1="431.3" x2="441.6" y2="434.5" stroke="#111" stroke-width="1.1"/>
<rect x="453.1" y="419.8" width="9.2" height="8.6" fill="#3a7ab8"/>
<path d="M457.8,419.5 V428.7 M455.1,422.2 h5.2 M455.1,426.0 h5.2" stroke="#111" stroke-width="1.2" fill="none"/>
<line x1="457.8" y1="431.3" x2="457.8" y2="434.5" stroke="#111" stroke-width="1.1"/>
<rect x="469.3" y="422.0" width="9.2" height="8.6" fill="#4cae78"/>
<path d="M473.9,421.7 V430.9 M471.3,424.4 h5.2 M471.3,428.2 h5.2" stroke="#111" stroke-width="1.2" fill="none"/>
<line x1="473.9" y1="431.3" x2="473.9" y2="434.5" stroke="#111" stroke-width="1.1"/>
<text x="0" y="0" font-size="12.6" text-anchor="end" fill="#222" transform="translate(316.6,440.0) rotate(-45)" stroke="#222" stroke-width="0.28">t7<tspan font-size="8.6" dy="-3.4">s</tspan></text>
<text x="0" y="0" font-size="12.6" text-anchor="end" fill="#222" transform="translate(332.7,440.0) rotate(-45)" stroke="#222" stroke-width="0.28">t8<tspan font-size="8.6" dy="-3.4">s</tspan></text>
<text x="0" y="0" font-size="12.6" text-anchor="end" fill="#222" transform="translate(348.9,440.0) rotate(-45)" stroke="#222" stroke-width="0.28">t9<tspan font-size="8.6" dy="-3.4">s</tspan></text>
<text x="0" y="0" font-size="12.6" text-anchor="end" fill="#222" transform="translate(365.0,440.0) rotate(-45)" stroke="#222" stroke-width="0.28">t10<tspan font-size="8.6" dy="-3.4">s</tspan></text>
<text x="0" y="0" font-size="12.6" text-anchor="end" fill="#222" transform="translate(381.2,440.0) rotate(-45)" stroke="#222" stroke-width="0.28">t11<tspan font-size="8.6" dy="-3.4">s</tspan></text>
<text x="0" y="0" font-size="12.6" text-anchor="end" fill="#222" transform="translate(397.3,440.0) rotate(-45)" stroke="#222" stroke-width="0.28">t12<tspan font-size="8.6" dy="-3.4">s</tspan></text>
<text x="0" y="0" font-size="12.6" text-anchor="end" fill="#222" transform="translate(413.5,440.0) rotate(-45)" stroke="#222" stroke-width="0.28">t13<tspan font-size="8.6" dy="-3.4">s</tspan></text>
<text x="0" y="0" font-size="12.6" text-anchor="end" fill="#222" transform="translate(429.6,440.0) rotate(-45)" stroke="#222" stroke-width="0.28">t14<tspan font-size="8.6" dy="-3.4">s</tspan></text>
<text x="0" y="0" font-size="12.6" text-anchor="end" fill="#222" transform="translate(445.8,440.0) rotate(-45)" stroke="#222" stroke-width="0.28">t15<tspan font-size="8.6" dy="-3.4">s</tspan></text>
<text x="0" y="0" font-size="12.6" text-anchor="end" fill="#222" transform="translate(461.9,440.0) rotate(-45)" stroke="#222" stroke-width="0.28">t16<tspan font-size="8.6" dy="-3.4">s</tspan></text>
<text x="0" y="0" font-size="12.6" text-anchor="end" fill="#222" transform="translate(478.1,440.0) rotate(-45)" stroke="#222" stroke-width="0.28">t18<tspan font-size="8.6" dy="-3.4">s</tspan></text>
<text x="397.0" y="471.5" font-size="11.8" text-anchor="middle" fill="#222"  stroke="#222" stroke-width="0.28">Target length</text>
<text x="0" y="0" font-size="11" text-anchor="middle" fill="#222" transform="translate(270.2,360.5) rotate(-90)" stroke="#222" stroke-width="0.28">K<tspan font-size="7" dy="2">D</tspan><tspan dy="-2"> (nM)</tspan></text>
<g filter="url(#rough)">
<path d="M507.0,338.0 C503.0,340.7 506.3,346.0 506.0,350.0 C505.7,354.0 506.0,358.3 505.0,362.0 C504.0,365.7 502.0,369.0 500.0,372.0 C498.0,375.0 494.8,377.7 493.0,380.0 C491.2,382.3 489.3,384.0 489.0,386.0 C488.7,388.0 488.8,391.0 491.0,392.0 C493.2,393.0 498.5,391.3 502.0,392.0 C505.5,392.7 509.0,394.3 512.0,396.0 C515.0,397.7 517.8,399.3 520.0,402.0 C522.2,404.7 523.3,409.0 525.0,412.0 C526.7,415.0 527.8,417.7 530.0,420.0 C532.2,422.3 535.0,424.8 538.0,426.0 C541.0,427.2 545.0,427.0 548.0,427.0 C551.0,427.0 553.3,426.8 556.0,426.0 C558.7,425.2 561.3,423.7 564.0,422.0 C566.7,420.3 569.7,418.3 572.0,416.0 C574.3,413.7 576.0,411.0 578.0,408.0 C580.0,405.0 582.0,401.8 584.0,398.0 C586.0,394.2 588.2,390.5 590.0,385.0 C591.8,379.5 593.7,371.7 595.0,365.0 C596.3,358.3 597.8,350.3 598.0,345.0 C598.2,339.7 597.7,335.8 596.0,333.0 C594.3,330.2 591.0,329.2 588.0,328.0 C585.0,326.8 581.7,326.0 578.0,326.0 C574.3,326.0 570.7,327.0 566.0,328.0 C561.3,329.0 556.0,331.0 550.0,332.0 C544.0,333.0 537.2,333.0 530.0,334.0 C522.8,335.0 511.0,335.3 507.0,338.0 Z" fill="#d2d2d2"/>
<path d="M590.0,424.0 C591.3,422.2 594.3,420.5 598.0,420.0 C601.7,419.5 607.0,420.2 612.0,421.0 C617.0,421.8 623.0,425.8 628.0,425.0 C633.0,424.2 639.0,416.5 642.0,416.0 C645.0,415.5 645.8,419.3 646.0,422.0 C646.2,424.7 644.7,429.0 643.0,432.0 C641.3,435.0 638.8,437.8 636.0,440.0 C633.2,442.2 629.7,443.8 626.0,445.0 C622.3,446.2 618.0,447.2 614.0,447.0 C610.0,446.8 605.3,445.5 602.0,444.0 C598.7,442.5 596.0,440.2 594.0,438.0 C592.0,435.8 590.7,433.3 590.0,431.0 C589.3,428.7 588.7,425.8 590.0,424.0 Z" fill="#d2d5ee"/>
<path d="M572,362 C580,356 590,358 594,368 L592,400 L580,412 C574,398 570,378 572,362 Z" fill="#d6d6ee"/>
<path d="M567.6,298.8 C569.8,299.0 571.5,299.6 573.0,301.0 C574.5,302.4 576.2,304.8 576.5,307.0 C576.8,309.2 574.6,311.7 575.0,314.0 C575.4,316.3 577.3,318.5 579.0,321.0 C580.7,323.5 583.8,326.3 585.0,329.0 C586.2,331.7 586.5,334.3 586.0,337.0 C585.5,339.7 583.7,342.5 582.0,345.0 C580.3,347.5 577.8,349.5 576.0,352.0 C574.2,354.5 572.7,357.2 571.0,360.0 C569.3,362.8 567.5,366.0 566.0,369.0 C564.5,372.0 563.2,374.8 562.0,378.0 C560.8,381.2 560.0,384.8 559.0,388.0 C558.0,391.2 557.5,394.5 556.0,397.0 C554.5,399.5 551.8,402.8 550.0,403.0 C548.2,403.2 546.3,400.5 545.0,398.0 C543.7,395.5 543.7,391.0 542.0,388.0 C540.3,385.0 537.7,382.5 535.0,380.0 C532.3,377.5 528.8,375.3 526.0,373.0 C523.2,370.7 520.0,368.5 518.0,366.0 C516.0,363.5 514.7,361.0 514.0,358.0 C513.3,355.0 513.5,351.0 514.0,348.0 C514.5,345.0 515.8,342.8 517.0,340.0 C518.2,337.2 519.7,334.0 521.0,331.0 C522.3,328.0 523.5,324.7 525.0,322.0 C526.5,319.3 527.8,316.8 530.0,315.0 C532.2,313.2 535.3,312.2 538.0,311.0 C540.7,309.8 543.5,309.2 546.0,308.0 C548.5,306.8 550.7,305.3 553.0,304.0 C555.3,302.7 557.6,300.9 560.0,300.0 C562.4,299.1 565.4,298.6 567.6,298.8 Z" fill="#c8ebc5"/>
<path d="M592.7,356.0 C592.5,354.3 593.0,350.6 594.0,349.0 C595.0,347.4 597.1,347.2 599.0,346.4 C600.9,345.5 603.0,344.7 605.3,343.9 C607.6,343.1 610.8,342.2 612.9,341.4 C615.0,340.5 616.5,339.6 618.0,338.8 C619.5,338.0 620.5,336.1 621.8,336.3 C623.1,336.5 624.3,339.2 625.6,340.1 C626.9,341.0 628.5,340.5 629.4,341.4 C630.3,342.2 631.5,343.7 631.1,345.2 C630.7,346.7 628.6,348.6 626.8,350.2 C625.0,351.8 622.8,354.4 620.5,354.8 C618.2,355.2 616.3,352.9 612.9,352.8 C609.5,352.7 603.3,353.0 600.3,354.0 C597.3,355.0 596.3,358.7 595.0,359.0 C593.7,359.3 592.9,357.7 592.7,356.0 Z" fill="#d8b87c"/>
<path d="M597.8,357.8 C598.6,356.5 597.8,354.8 600.3,354.0 C602.8,353.2 609.5,352.7 612.9,352.8 C616.3,352.9 618.2,355.2 620.5,354.8 C622.8,354.4 624.9,351.8 626.8,350.2 C628.7,348.6 630.2,346.2 631.9,345.2 C633.6,344.1 635.5,343.5 637.0,343.9 C638.5,344.3 639.7,346.2 641.2,347.7 C642.7,349.2 644.2,352.1 645.8,352.8 C647.4,353.6 649.4,352.4 650.9,352.2 C652.4,352.0 653.5,351.0 654.6,351.5 C655.7,352.0 656.8,353.4 657.2,355.3 C657.6,357.2 656.4,360.4 657.2,362.9 C658.0,365.4 660.9,368.0 662.2,370.5 C663.5,373.0 663.5,375.7 664.8,378.0 C666.1,380.3 668.5,382.3 669.8,384.4 C671.0,386.5 672.1,388.8 672.3,390.7 C672.5,392.6 672.0,394.4 671.0,395.7 C670.0,397.0 667.7,397.2 666.0,398.3 C664.3,399.4 662.7,400.7 661.0,402.0 C659.3,403.3 657.6,404.4 655.9,405.9 C654.2,407.4 652.6,409.4 650.9,410.9 C649.2,412.4 647.3,413.6 645.8,414.7 C644.3,415.8 643.7,415.9 642.0,417.2 C640.3,418.5 637.8,420.8 635.7,422.3 C633.6,423.8 631.5,424.7 629.4,426.0 C627.3,427.3 625.3,429.0 623.0,429.9 C620.7,430.8 618.0,430.7 615.5,431.1 C613.0,431.5 610.4,432.4 607.9,432.4 C605.4,432.4 602.6,431.7 600.3,431.1 C598.0,430.5 595.5,429.9 594.0,428.6 C592.5,427.4 591.6,425.7 591.4,423.6 C591.2,421.5 592.9,418.5 592.7,416.0 C592.5,413.5 591.1,410.5 590.2,408.4 C589.4,406.3 587.6,405.0 587.6,403.3 C587.6,401.6 590.0,400.4 590.2,398.3 C590.4,396.2 588.5,393.2 588.9,390.7 C589.3,388.2 592.3,385.6 592.7,383.1 C593.1,380.6 591.2,378.0 591.4,375.5 C591.6,373.0 593.4,370.2 594.0,367.9 C594.6,365.6 594.6,363.3 595.2,361.6 C595.8,359.9 596.9,359.1 597.8,357.8 Z" fill="#f09cee"/>
</g>
<g filter="url(#mottle)"><path d="M507.0,338.0 C503.0,340.7 506.3,346.0 506.0,350.0 C505.7,354.0 506.0,358.3 505.0,362.0 C504.0,365.7 502.0,369.0 500.0,372.0 C498.0,375.0 494.8,377.7 493.0,380.0 C491.2,382.3 489.3,384.0 489.0,386.0 C488.7,388.0 488.8,391.0 491.0,392.0 C493.2,393.0 498.5,391.3 502.0,392.0 C505.5,392.7 509.0,394.3 512.0,396.0 C515.0,397.7 517.8,399.3 520.0,402.0 C522.2,404.7 523.3,409.0 525.0,412.0 C526.7,415.0 527.8,417.7 530.0,420.0 C532.2,422.3 535.0,424.8 538.0,426.0 C541.0,427.2 545.0,427.0 548.0,427.0 C551.0,427.0 553.3,426.8 556.0,426.0 C558.7,425.2 561.3,423.7 564.0,422.0 C566.7,420.3 569.7,418.3 572.0,416.0 C574.3,413.7 576.0,411.0 578.0,408.0 C580.0,405.0 582.0,401.8 584.0,398.0 C586.0,394.2 588.2,390.5 590.0,385.0 C591.8,379.5 593.7,371.7 595.0,365.0 C596.3,358.3 597.8,350.3 598.0,345.0 C598.2,339.7 597.7,335.8 596.0,333.0 C594.3,330.2 591.0,329.2 588.0,328.0 C585.0,326.8 581.7,326.0 578.0,326.0 C574.3,326.0 570.7,327.0 566.0,328.0 C561.3,329.0 556.0,331.0 550.0,332.0 C544.0,333.0 537.2,333.0 530.0,334.0 C522.8,335.0 511.0,335.3 507.0,338.0 Z" fill="#bababa"/></g>
<g filter="url(#mottle)"><path d="M567.6,298.8 C569.8,299.0 571.5,299.6 573.0,301.0 C574.5,302.4 576.2,304.8 576.5,307.0 C576.8,309.2 574.6,311.7 575.0,314.0 C575.4,316.3 577.3,318.5 579.0,321.0 C580.7,323.5 583.8,326.3 585.0,329.0 C586.2,331.7 586.5,334.3 586.0,337.0 C585.5,339.7 583.7,342.5 582.0,345.0 C580.3,347.5 577.8,349.5 576.0,352.0 C574.2,354.5 572.7,357.2 571.0,360.0 C569.3,362.8 567.5,366.0 566.0,369.0 C564.5,372.0 563.2,374.8 562.0,378.0 C560.8,381.2 560.0,384.8 559.0,388.0 C558.0,391.2 557.5,394.5 556.0,397.0 C554.5,399.5 551.8,402.8 550.0,403.0 C548.2,403.2 546.3,400.5 545.0,398.0 C543.7,395.5 543.7,391.0 542.0,388.0 C540.3,385.0 537.7,382.5 535.0,380.0 C532.3,377.5 528.8,375.3 526.0,373.0 C523.2,370.7 520.0,368.5 518.0,366.0 C516.0,363.5 514.7,361.0 514.0,358.0 C513.3,355.0 513.5,351.0 514.0,348.0 C514.5,345.0 515.8,342.8 517.0,340.0 C518.2,337.2 519.7,334.0 521.0,331.0 C522.3,328.0 523.5,324.7 525.0,322.0 C526.5,319.3 527.8,316.8 530.0,315.0 C532.2,313.2 535.3,312.2 538.0,311.0 C540.7,309.8 543.5,309.2 546.0,308.0 C548.5,306.8 550.7,305.3 553.0,304.0 C555.3,302.7 557.6,300.9 560.0,300.0 C562.4,299.1 565.4,298.6 567.6,298.8 Z" fill="#b0dcae"/></g>
<g filter="url(#mottle2)"><path d="M597.8,357.8 C598.6,356.5 597.8,354.8 600.3,354.0 C602.8,353.2 609.5,352.7 612.9,352.8 C616.3,352.9 618.2,355.2 620.5,354.8 C622.8,354.4 624.9,351.8 626.8,350.2 C628.7,348.6 630.2,346.2 631.9,345.2 C633.6,344.1 635.5,343.5 637.0,343.9 C638.5,344.3 639.7,346.2 641.2,347.7 C642.7,349.2 644.2,352.1 645.8,352.8 C647.4,353.6 649.4,352.4 650.9,352.2 C652.4,352.0 653.5,351.0 654.6,351.5 C655.7,352.0 656.8,353.4 657.2,355.3 C657.6,357.2 656.4,360.4 657.2,362.9 C658.0,365.4 660.9,368.0 662.2,370.5 C663.5,373.0 663.5,375.7 664.8,378.0 C666.1,380.3 668.5,382.3 669.8,384.4 C671.0,386.5 672.1,388.8 672.3,390.7 C672.5,392.6 672.0,394.4 671.0,395.7 C670.0,397.0 667.7,397.2 666.0,398.3 C664.3,399.4 662.7,400.7 661.0,402.0 C659.3,403.3 657.6,404.4 655.9,405.9 C654.2,407.4 652.6,409.4 650.9,410.9 C649.2,412.4 647.3,413.6 645.8,414.7 C644.3,415.8 643.7,415.9 642.0,417.2 C640.3,418.5 637.8,420.8 635.7,422.3 C633.6,423.8 631.5,424.7 629.4,426.0 C627.3,427.3 625.3,429.0 623.0,429.9 C620.7,430.8 618.0,430.7 615.5,431.1 C613.0,431.5 610.4,432.4 607.9,432.4 C605.4,432.4 602.6,431.7 600.3,431.1 C598.0,430.5 595.5,429.9 594.0,428.6 C592.5,427.4 591.6,425.7 591.4,423.6 C591.2,421.5 592.9,418.5 592.7,416.0 C592.5,413.5 591.1,410.5 590.2,408.4 C589.4,406.3 587.6,405.0 587.6,403.3 C587.6,401.6 590.0,400.4 590.2,398.3 C590.4,396.2 588.5,393.2 588.9,390.7 C589.3,388.2 592.3,385.6 592.7,383.1 C593.1,380.6 591.2,378.0 591.4,375.5 C591.6,373.0 593.4,370.2 594.0,367.9 C594.6,365.6 594.6,363.3 595.2,361.6 C595.8,359.9 596.9,359.1 597.8,357.8 Z" fill="#c98fc8"/></g>
<g filter="url(#mottle)"><path d="M592.7,356.0 C592.5,354.3 593.0,350.6 594.0,349.0 C595.0,347.4 597.1,347.2 599.0,346.4 C600.9,345.5 603.0,344.7 605.3,343.9 C607.6,343.1 610.8,342.2 612.9,341.4 C615.0,340.5 616.5,339.6 618.0,338.8 C619.5,338.0 620.5,336.1 621.8,336.3 C623.1,336.5 624.3,339.2 625.6,340.1 C626.9,341.0 628.5,340.5 629.4,341.4 C630.3,342.2 631.5,343.7 631.1,345.2 C630.7,346.7 628.6,348.6 626.8,350.2 C625.0,351.8 622.8,354.4 620.5,354.8 C618.2,355.2 616.3,352.9 612.9,352.8 C609.5,352.7 603.3,353.0 600.3,354.0 C597.3,355.0 596.3,358.7 595.0,359.0 C593.7,359.3 592.9,357.7 592.7,356.0 Z" fill="#c09a58"/></g>
<g filter="url(#mottle)"><path d="M590.0,424.0 C591.3,422.2 594.3,420.5 598.0,420.0 C601.7,419.5 607.0,420.2 612.0,421.0 C617.0,421.8 623.0,425.8 628.0,425.0 C633.0,424.2 639.0,416.5 642.0,416.0 C645.0,415.5 645.8,419.3 646.0,422.0 C646.2,424.7 644.7,429.0 643.0,432.0 C641.3,435.0 638.8,437.8 636.0,440.0 C633.2,442.2 629.7,443.8 626.0,445.0 C622.3,446.2 618.0,447.2 614.0,447.0 C610.0,446.8 605.3,445.5 602.0,444.0 C598.7,442.5 596.0,440.2 594.0,438.0 C592.0,435.8 590.7,433.3 590.0,431.0 C589.3,428.7 588.7,425.8 590.0,424.0 Z" fill="#b8bcdc"/></g>
<path d="M565.5,292.3 C561,293 556,296 553,300 C551,304 551,309 551.6,313" stroke="#1515e8" stroke-width="1.3" fill="none" stroke-dasharray="2.3,1.9"/>
<path d="M551.6,313 C554,316 556,317 557,319 C559,323 560,327 562,329 C566,332 572,335 575,338.7 C577.5,342 577.5,348 576,352 C574,357 569,362 564.6,366" stroke="#e0701c" stroke-width="1.5" fill="none"/>
<line x1="551" y1="333" x2="559.5" y2="330" stroke="#e0701c" stroke-width="1.4" stroke-dasharray="4.5,2.2"/>
<line x1="550.5" y1="339.5" x2="566" y2="333.5" stroke="#e0701c" stroke-width="1.4" stroke-dasharray="4.5,2.2"/>
<line x1="552" y1="346" x2="572" y2="338.5" stroke="#e0701c" stroke-width="1.4" stroke-dasharray="4.5,2.2"/>
<line x1="554" y1="352.5" x2="574" y2="345" stroke="#e0701c" stroke-width="1.4" stroke-dasharray="4.5,2.2"/>
<line x1="557" y1="358.5" x2="575" y2="351.5" stroke="#e0701c" stroke-width="1.4" stroke-dasharray="4.5,2.2"/>
<path d="M562,358.6 C566,361 570,360 573,357.4" stroke="#e0701c" stroke-width="1.2" fill="none" stroke-dasharray="2,1.5"/>
<path d="M540,330 C546,333 550,338 551,343 C553,350 556,356 561,360" stroke="#d9b070" stroke-width="0.8" fill="none"/>
<path d="M572.9,356.2 C578,358 581,362 582.5,366 C584,371 584,377 582,382 C580,386 578,388 576.5,390" stroke="#c080c0" stroke-width="0.9" fill="none"/>
<path d="M559.5,369.5 C556,372 553,375 552.3,378 C551,382 552,386 556,389" stroke="#c070b0" stroke-width="0.9" fill="none" stroke-dasharray="1.6,1.6"/>
<path d="M563.2,390.1 C568,389.5 573,389.5 576.5,390.1 C580,392 582,394 583,397 C584,401 584,405 582,409 C580.5,412 579,413.5 577.7,414.3" stroke="#3a80c0" stroke-width="1.4" fill="none"/>
<path d="M572,405.5 C577,409 583,411 589.8,409.5 L593.4,408.8" stroke="#3a80c0" stroke-width="1.2" fill="none"/>
<line x1="569.2" y1="397.4" x2="577.7" y2="394.5" stroke="#3a80c0" stroke-width="1.2" stroke-dasharray="4,2"/>
<line x1="568.5" y1="403" x2="580" y2="399" stroke="#3a80c0" stroke-width="1.2" stroke-dasharray="4,2"/>
<line x1="569.5" y1="408.5" x2="581" y2="404.5" stroke="#3a80c0" stroke-width="1.2" stroke-dasharray="4,2"/>
<line x1="572" y1="413" x2="580" y2="410" stroke="#3a80c0" stroke-width="1.2" stroke-dasharray="4,2"/>
<path d="M576.5,416.8 L581.3,420.4 M589.8,413 L591,415.5" stroke="#3cae70" stroke-width="1.2" fill="none"/>
<path d="M576.5,416.8 C572,420 568,424 566,428 C563,434 561.5,440 561,451" stroke="#1515e8" stroke-width="1.4" fill="none" stroke-dasharray="2.3,1.9"/>
<text x="565.2" y="294.8" font-size="11.5" text-anchor="start" fill="#1515e8" font-weight="bold">3'</text>
<text x="516.6" y="311.2" font-size="11" text-anchor="start" fill="#b8e4b8" font-weight="bold" textLength="20" lengthAdjust="spacingAndGlyphs">MID</text>
<text x="522.2" y="331.2" font-size="11" text-anchor="start" fill="#000" font-weight="bold">5'</text>
<text x="526.6" y="339.6" font-size="11.5" text-anchor="start" fill="#222" textLength="11.6" lengthAdjust="spacingAndGlyphs" stroke="#222" stroke-width="0.28">g1</text>
<text x="538.3" y="344.6" font-size="11.5" text-anchor="start" fill="#222" textLength="12.2" lengthAdjust="spacingAndGlyphs" stroke="#222" stroke-width="0.28">g2</text>
<text x="577.6" y="339.2" font-size="11" text-anchor="start" fill="#d3a064" textLength="24.6" lengthAdjust="spacingAndGlyphs" stroke="#d3a064" stroke-width="0.28">seed</text>
<text x="545.7" y="363.2" font-size="11.5" text-anchor="start" fill="#222" textLength="12.2" lengthAdjust="spacingAndGlyphs" stroke="#222" stroke-width="0.28">g5</text>
<text x="582.3" y="371.6" font-size="11.5" text-anchor="start" fill="#222" textLength="12.2" lengthAdjust="spacingAndGlyphs" stroke="#222" stroke-width="0.28">g9</text>
<text x="663.3" y="363.7" font-size="10.6" text-anchor="start" fill="#f07ef0" textLength="20.6" lengthAdjust="spacingAndGlyphs" stroke="#f07ef0" stroke-width="0.28">PAZ</text>
<text x="513.6" y="385.2" font-size="10.8" text-anchor="start" fill="#d890c8" textLength="34.6" lengthAdjust="spacingAndGlyphs" stroke="#d890c8" stroke-width="0.28">central</text>
<text x="586.2" y="391.8" font-size="10.5" text-anchor="start" fill="#5b74d6" textLength="76" lengthAdjust="spacingAndGlyphs" stroke="#5b74d6" stroke-width="0.28">supplementary</text>
<text x="546.6" y="403.6" font-size="11.5" text-anchor="start" fill="#222" textLength="19.6" lengthAdjust="spacingAndGlyphs" stroke="#222" stroke-width="0.28">g13</text>
<text x="589.5" y="406.6" font-size="11.5" text-anchor="start" fill="#222" textLength="19" lengthAdjust="spacingAndGlyphs" stroke="#222" stroke-width="0.28">g16</text>
<text x="624.1" y="411.0" font-size="11" text-anchor="start" fill="#000" font-weight="bold">3'</text>
<text x="487.6" y="416.7" font-size="11" text-anchor="start" fill="#d8d8d8" font-weight="bold" textLength="23.8" lengthAdjust="spacingAndGlyphs">PIWI</text>
<text x="592.5" y="429.3" font-size="10.8" text-anchor="start" fill="#55ad7e" textLength="46.2" lengthAdjust="spacingAndGlyphs" stroke="#55ad7e" stroke-width="0.28">non-seed</text>
<text x="620.6" y="455.7" font-size="11" text-anchor="start" fill="#c6c8da" font-weight="bold">N</text>
<text x="560.4" y="466.4" font-size="11.5" text-anchor="start" fill="#1515e8" font-weight="bold">5'</text>
</svg></body></html>
